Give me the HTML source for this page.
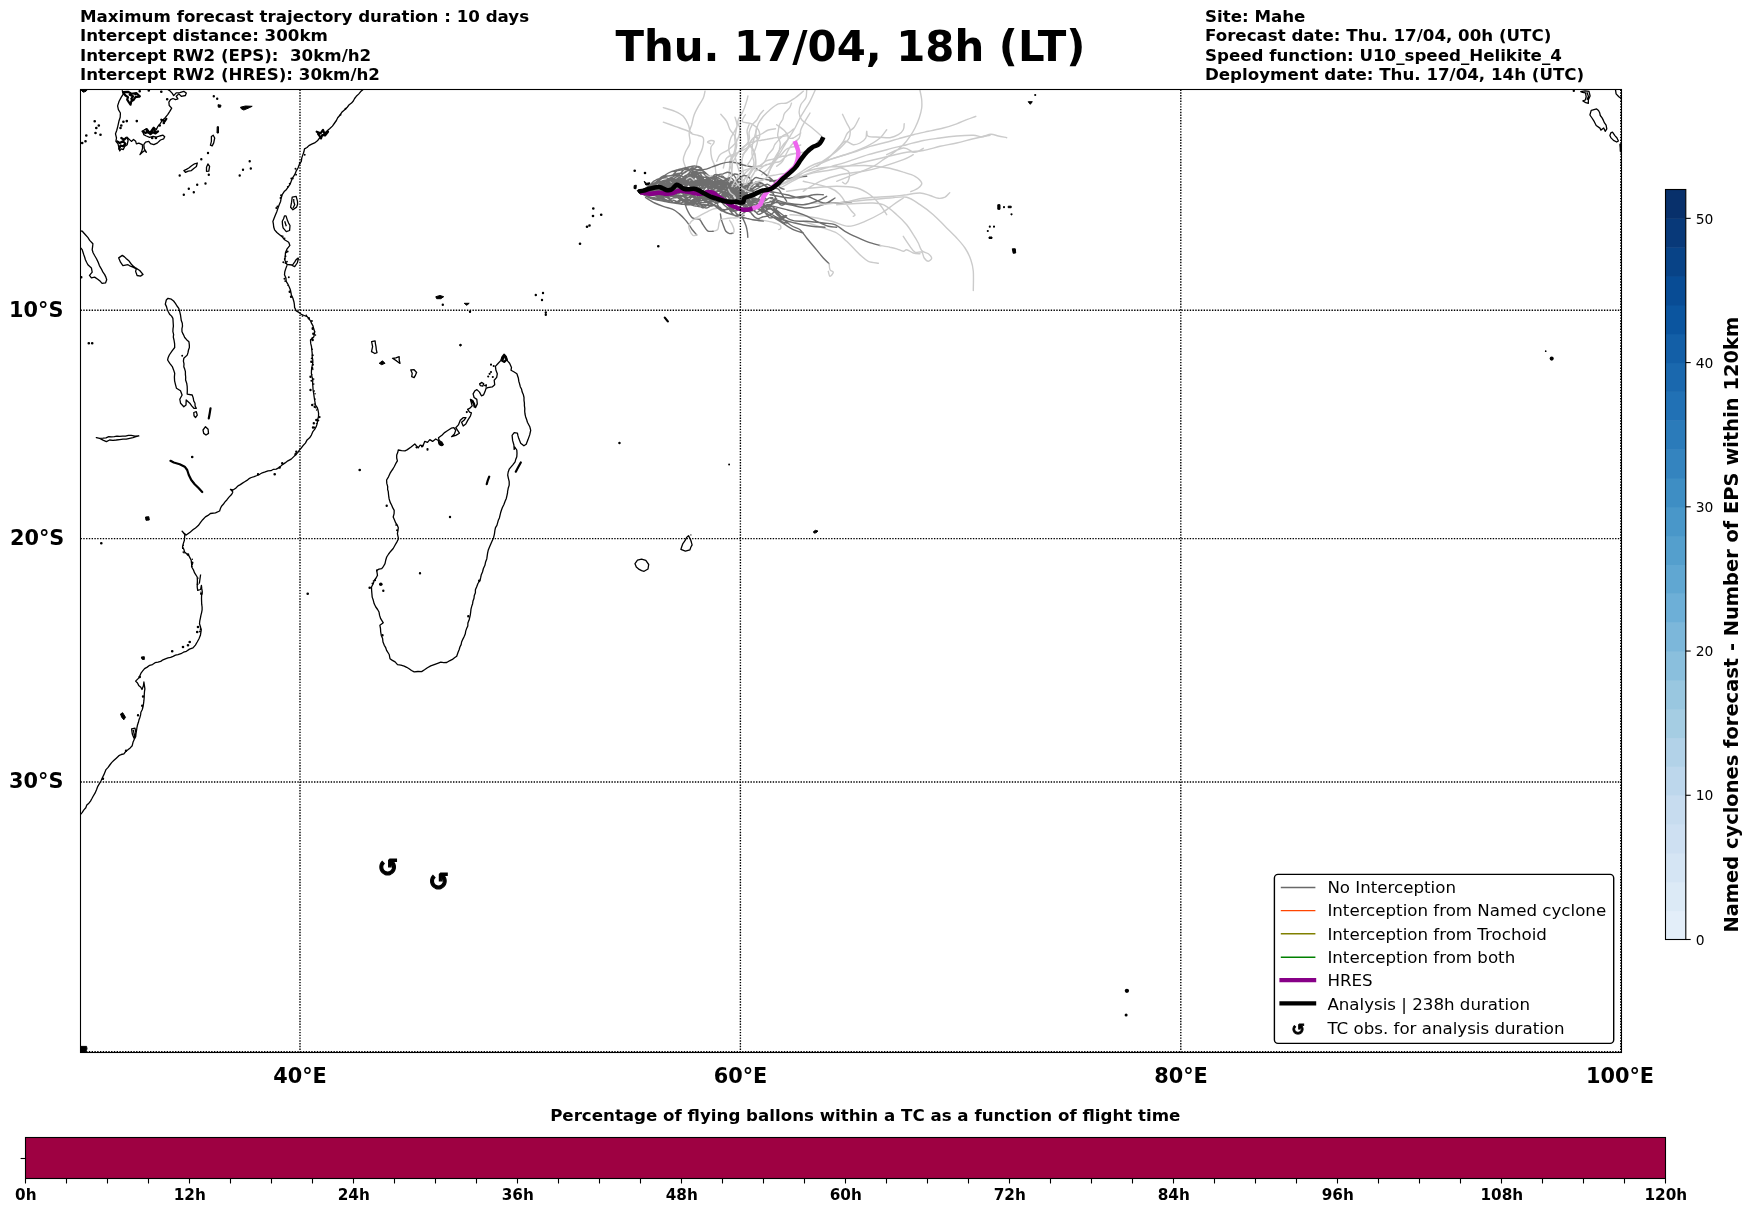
<!DOCTYPE html>
<html lang="en"><head><meta charset="utf-8"><title>Thu. 17/04, 18h (LT)</title>
<style>
html,body{margin:0;padding:0;background:#fff;}
body{width:1752px;height:1213px;overflow:hidden;}
svg{display:block;will-change:transform;}
text{font-family:"DejaVu Sans", "Liberation Sans", sans-serif;fill:#000;}
.b{font-weight:bold;}
.coast{fill:none;stroke:#000;stroke-width:1.3;stroke-linejoin:round;stroke-linecap:butt;}
.coast2{fill:none;stroke:#000;stroke-width:2.2;stroke-linejoin:round;stroke-linecap:round;}
.isl{fill:#000;stroke:#000;stroke-width:1;stroke-linejoin:round;}
.g1{fill:none;stroke:#cbcbcb;stroke-width:1.4;stroke-linejoin:round;stroke-linecap:round;}
.g2{fill:none;stroke:#8c8c8c;stroke-width:1.5;stroke-linejoin:round;stroke-linecap:round;}
.g3{fill:none;stroke:#6e6e6e;stroke-width:1.4;stroke-linejoin:round;stroke-linecap:round;}
.grid{fill:none;stroke:#000;stroke-width:1.39;stroke-dasharray:1.39 1.39;}
</style></head>
<body>
<svg width="1752" height="1213" viewBox="0 0 1752 1213">
<rect x="0" y="0" width="1752" height="1213" fill="#fff"/>
<g class="b" font-size="16.67">
<text x="80" y="22">Maximum forecast trajectory duration : 10 days</text>
<text x="80" y="41">Intercept distance: 300km</text>
<text x="80" y="60.8" xml:space="preserve">Intercept RW2 (EPS):  30km/h2</text>
<text x="80" y="79.8">Intercept RW2 (HRES): 30km/h2</text>
<text x="1205" y="22">Site: Mahe</text>
<text x="1205" y="41">Forecast date: Thu. 17/04, 00h (UTC)</text>
<text x="1205" y="60.8">Speed function: U10_speed_Helikite_4</text>
<text x="1205" y="79.8">Deployment date: Thu. 17/04, 14h (UTC)</text>
</g>
<text class="b" x="850.4" y="61.4" font-size="41.85" text-anchor="middle">Thu. 17/04, 18h (LT)</text>
<defs><clipPath id="mapclip"><rect x="80.5" y="89.5" width="1541" height="963"/></clipPath></defs>
<g clip-path="url(#mapclip)">
<!-- map_2_coast.svg -->
<path class="coast" d="M363.1 89.4L360.7 91.6L358.6 94.1L356.3 96.3L354.6 98.5L353.3 101.0L351.5 103.1L348.9 105.0L347.0 107.6L344.7 109.7L341.8 112.3L339.7 115.5L337.7 117.8L336.4 120.5L334.6 123.0L332.4 126.1L329.6 128.8L326.9 131.1L324.7 133.8L322.0 135.7L319.6 138.0L317.4 140.8L314.6 142.9L311.7 144.2L308.9 145.6L307.0 147.5L304.5 148.8L303.9 151.8L302.9 154.6L301.8 157.9L301.3 161.3L299.3 164.5L298.0 168.0L296.1 171.2L294.7 174.7L292.6 177.8L291.2 181.3L290.0 184.4L288.1 187.2L286.5 189.4L284.5 191.2L282.2 194.7L281.2 198.0L280.6 201.4L279.2 204.7L278.0 208.0L276.9 211.4L275.5 214.7L274.2 218.0L272.9 221.4L273.4 224.1L273.7 227.0L274.6 229.8L276.9 232.5L279.6 234.7L282.4 237.0L284.6 239.8L288.7 242.2L289.9 245.4L287.1 248.8L285.4 253.0L285.3 256.4L284.6 259.7L285.9 262.2L287.2 264.7L285.7 268.9L284.8 271.7L284.5 274.7L285.9 277.9L286.2 281.4L287.7 283.8L288.9 286.3L290.5 290.0M292.2 197.1L296.2 196.4L297.5 201.3L297.6 204.3L296.6 207.1L292.9 209.8L290.6 207.2L291.6 202.2ZM293.7 198.9L293.8 201.8L294.7 204.7L293.0 208.0M284.5 215.9L283.6 218.7L282.3 221.3L282.5 224.7L283.1 227.9L286.3 231.6L289.6 230.5L290.0 225.5L288.6 223.1L287.5 220.6L286.0 215.9ZM284.7 221.3L286.3 226.3M298.1 258.0L296.0 259.8L294.6 262.1L292.2 265.5L294.7 266.7L297.2 263.0L298.4 258.8ZM286.3 264.3L292.2 265.0M122.1 90.3L123.4 93.8L121.3 97.1L119.1 101.3L117.6 105.9L118.4 109.7L120.4 113.0L120.2 117.2L118.9 121.3L117.8 126.3L116.7 130.5L115.5 133.8L116.5 138.0L115.9 141.3L118.0 143.8L119.0 148.0L119.7 150.9L121.3 148.9L123.3 149.6L124.7 146.4L127.2 144.7L128.1 140.5L126.8 137.1L128.8 138.9L131.4 141.4L133.5 139.5L135.7 141.3L136.4 143.9L138.8 143.1L142.3 144.7L142.6 148.0L141.7 151.3L140.0 154.6L142.1 152.5L144.7 150.5L146.3 152.2L144.3 148.8L143.8 144.6L145.5 142.1L148.8 141.4L150.5 143.7L153.8 144.7L157.2 143.1L160.5 140.0L163.7 138.8L164.7 136.7L163.0 135.2L159.7 136.0L156.3 137.2L153.0 136.3L149.6 137.3L146.3 136.0L143.8 134.7L142.7 131.4L144.7 129.6L147.1 128.9L148.9 131.2L151.3 133.0L153.1 130.5L153.7 127.3L156.3 129.7L157.9 126.3L160.0 123.8L162.2 120.5L165.0 117.9L167.7 114.7L169.8 111.4L171.7 108.1L169.2 105.5L168.9 102.2L170.5 99.7L173.0 98.5L175.5 99.6L177.9 98.9L176.3 96.3L178.8 93.9L181.3 96.3L185.4 95.5L186.3 93.0L183.8 91.4L179.7 92.6L176.2 92.9L173.7 95.6L172.1 93.1L169.8 90.8L168.0 89.7M211.4 136.5L213.2 135.2L214.7 138.0L213.7 142.9L212.2 145.9L210.4 145.1L211.4 141.3ZM183.9 170.6L186.4 169.4L188.8 168.0L191.6 165.8L194.6 163.8L197.3 163.0L196.4 166.5L193.8 168.4L191.4 170.6L188.3 171.1L185.4 172.3ZM207.9 163.9L209.6 166.3L208.8 171.2L206.5 171.3L206.5 167.2ZM80.0 231.0L82.3 231.2L85.4 234.7L87.8 237.4L89.7 240.4L92.9 243.8L92.6 246.7L92.2 249.7L93.1 252.7L94.6 255.5L96.5 258.8L98.1 262.1L99.4 265.6L101.3 268.8L102.8 271.9L104.7 274.6L105.9 277.1L106.7 279.7L105.5 282.9L102.1 283.4L100.3 281.3L98.1 279.5L94.6 277.1L91.4 277.9L89.5 275.4L92.2 272.2L91.4 267.9L87.9 264.7L86.6 262.3L85.4 259.7L84.7 257.2L83.8 254.7L83.0 252.2L82.2 249.6L80.0 247.2M118.7 257.9L122.3 255.4L124.5 256.9L126.4 258.7L129.1 261.1L131.2 264.0L133.2 266.1L135.6 267.9L139.7 270.5L143.0 274.4L140.5 276.1L137.1 275.5L135.6 271.4L136.3 268.8L133.0 267.2L130.4 266.2L128.0 264.7L122.9 265.6L120.5 262.2ZM290.4 290.0L291.4 295.0L292.9 298.2L293.9 301.7L294.4 304.6L294.6 307.5L296.3 310.9L298.9 312.4L301.3 314.3L304.2 315.5L307.2 316.7L308.9 318.7L310.5 320.8L311.6 323.4L313.0 325.8L313.7 328.8L314.7 331.7L313.9 336.7L310.5 340.0L310.7 343.4L311.5 346.6L311.8 350.0L312.2 353.3L312.2 356.7L312.8 360.0L312.7 363.3L312.0 366.6L311.5 370.0L311.4 373.3L312.0 376.7L312.8 380.0L312.6 383.3L312.9 386.7L313.1 390.0L313.7 393.3L314.1 396.7L314.6 400.0L315.5 405.0L317.1 407.3L318.0 410.0L318.6 413.3L318.5 416.7L317.5 420.0L317.3 423.4L316.3 426.4L314.8 429.2L312.7 431.9L311.4 435.1L309.6 437.8L307.1 439.9L305.4 443.1L302.9 445.8L301.2 448.0L299.4 450.1L297.9 452.4L295.9 454.5L293.8 456.6L291.2 459.1L287.9 460.8L285.1 462.9L282.1 464.9L279.5 467.4L276.3 469.1L273.5 469.3L270.9 470.7L268.0 470.9L265.2 471.9L262.3 472.8L259.7 474.3L257.0 475.5L254.2 476.6L251.3 477.5L249.0 478.7L246.9 480.4L244.7 481.7L242.5 483.1L240.3 484.6L238.0 485.9L235.7 488.2L233.0 490.0L230.4 489.3L233.0 492.0M168.0 298.3L171.3 299.2L173.6 301.0L175.4 303.4L177.0 306.0L178.8 308.3L179.7 311.7L180.5 315.0L180.9 317.8L181.3 320.6L182.3 323.3L182.5 326.1L181.9 328.9L182.0 331.7L183.4 334.6L184.7 337.5L186.6 339.7L188.9 341.7L189.3 344.6L189.4 347.5L188.5 350.0L188.0 352.5L187.2 355.1L183.8 358.3L183.4 361.1L184.0 363.9L183.8 366.7L184.7 369.1L185.4 371.7L185.4 374.4L185.7 377.2L185.6 380.0L186.7 383.2L187.2 386.7L187.3 390.4L187.2 394.1L192.2 395.0L193.2 397.9L193.7 400.9L195.0 403.2L195.1 406.0L196.3 408.3L193.9 408.3L191.7 405.9L189.8 403.2L186.2 400.0L186.0 405.0L183.8 406.7L180.6 403.3L179.8 399.2L182.1 395.0L180.5 390.8L176.5 388.3L175.5 384.6L174.6 380.8L174.4 377.1L174.7 373.3L173.6 369.9L172.3 366.6L169.8 363.3L167.6 360.0L168.2 357.4L169.3 355.0L172.1 350.8L174.7 347.5L174.6 343.7L174.0 340.0L173.3 337.2L173.6 334.4L172.9 331.7L173.0 328.9L173.4 326.1L173.2 323.3L172.9 318.4L171.6 316.1L169.6 314.2L168.3 311.7L167.2 309.2L166.5 306.6L165.3 304.1L166.3 300.0ZM193.8 412.5L196.3 411.7L197.3 415.1L195.5 417.5L194.0 415.8ZM203.0 430.0L205.5 426.7L208.1 429.2L208.5 433.4L206.0 435.0L203.7 433.4ZM96.3 437.6L99.6 438.3L103.0 438.2L106.0 437.9L108.8 436.6L111.5 436.8L114.3 436.7L117.0 436.2L119.7 436.4L122.6 436.2L125.5 436.1L128.4 435.4L131.3 435.4L135.0 436.1L138.8 435.9L135.9 436.7L133.0 437.6L129.7 438.3L126.3 439.2L123.0 439.2L119.7 439.6L116.3 440.0L113.0 440.3L109.6 440.0L106.4 441.6L103.0 440.1L99.8 438.4ZM388.4 492.0L387.6 489.4L387.7 486.6L386.8 483.4L386.6 480.0L388.5 476.8L390.0 473.4L391.4 471.1L392.9 469.0L394.2 466.7L395.7 463.7L397.4 460.8L396.7 458.0L396.7 455.0L397.7 452.6L398.3 450.0L401.6 450.6L405.0 450.8L407.5 449.7M406.4 450.0L407.4 449.6L411.1 447.0L414.8 444.0L416.5 445.9L418.3 447.7L420.2 445.1L422.9 445.9L424.8 441.3L427.5 442.3L429.8 439.6L432.6 441.4L435.7 439.0L438.3 440.5L439.4 444.0L442.9 445.0L442.0 442.4L439.2 440.5L438.5 437.8L442.2 435.0L444.2 432.9L446.6 431.2L448.9 429.7L451.2 428.2L453.9 427.7L455.7 430.4L454.4 434.0L451.6 436.7L455.8 435.4L459.4 433.2L457.6 430.4L455.8 427.7L458.4 424.9L460.3 420.3L463.1 417.7L466.0 417.7L464.0 420.3L461.6 422.2L463.2 426.0L465.8 424.0L467.7 420.4L469.1 418.1L470.5 415.8L471.4 412.9L469.6 412.1L467.6 409.3L470.0 408.1L472.2 405.8L471.4 403.0L470.4 399.4L473.3 401.1L474.1 404.5L475.5 407.6L477.3 403.9L476.8 399.4L474.1 397.5L473.1 393.8L475.0 390.7L476.9 389.6L479.5 392.1L481.4 395.8L483.6 394.8L485.0 391.6L486.0 388.5L487.8 387.6L492.2 386.9L494.7 384.7L494.2 380.2L496.7 377.4L497.3 373.8L495.9 370.1L495.4 366.4L497.8 363.8L500.7 360.6L502.3 356.4L504.1 354.2L506.4 356.9L507.5 360.9L509.6 363.3L511.5 367.4L511.0 370.3L514.2 372.0L516.9 373.8L518.4 378.3L518.8 381.2L519.6 383.9L520.3 386.7L521.6 389.3L522.2 392.1L523.4 394.8L524.0 397.5L524.0 400.3L524.4 403.0L524.4 405.7L524.8 408.5L524.7 411.2L525.0 414.0L525.6 416.7L526.6 419.4L527.4 422.2L529.8 426.7L530.7 430.4L529.7 434.9L528.0 439.6L526.2 444.2L523.9 445.8L520.7 443.2L518.8 438.6L518.0 435.9L517.4 433.1L514.2 432.7L512.1 435.4L512.6 440.4L513.9 445.0L514.2 450.0M479.6 383.9L481.9 382.4L483.7 383.8L482.7 386.2L480.4 385.7ZM484.1 385.6L486.4 384.8L485.9 387.5M514.4 446.6L516.8 450.0L517.0 453.3L516.8 456.7L515.8 459.2L515.1 461.8L512.6 465.1L510.9 467.1L509.2 469.2L508.2 472.0L507.7 475.0L508.4 478.3L509.2 481.7L509.2 485.1L508.2 488.3L507.5 492.0M371.6 341.6L375.1 340.8L375.4 343.7L376.0 346.6L376.3 349.6L377.0 352.6L374.9 353.5L371.5 351.6L372.6 346.7ZM392.5 358.3L395.9 357.8L399.2 356.7L399.2 360.0L400.0 363.4L396.6 360.9ZM410.8 369.9L414.1 369.7L416.6 372.5L415.5 375.1L414.1 377.6L411.7 376.7L412.2 373.3ZM233.0 492.0L231.3 494.8L229.0 497.1L227.0 499.7L224.8 502.1L223.3 504.3L221.5 506.2L220.4 508.6L219.6 511.0L215.5 512.9L210.4 513.5L208.0 515.4L205.4 516.9L202.7 519.7L200.4 522.7L198.3 525.6L195.5 527.9L192.9 529.8L190.4 531.9L186.2 535.1L184.1 533.2L182.1 531.2L184.8 534.5L184.6 537.4L184.4 540.3L183.3 543.6L182.5 547.1L183.9 549.4L184.6 552.1L186.6 553.8L188.7 555.4L190.0 557.9L191.2 560.3L191.6 563.7L191.7 567.0L193.4 569.8L194.6 572.9L197.2 577.0L197.4 580.3L197.3 583.7L197.2 587.0L197.7 590.4L200.6 589.5L201.4 585.3L201.8 588.7L202.3 592.0L201.6 595.3L201.5 598.6L201.6 601.4L201.7 604.2L202.1 607.0L202.1 609.8L201.6 612.6L200.9 615.3L200.4 618.1L199.8 620.8L199.5 623.7L200.5 627.0L201.2 630.3L200.4 635.3L199.0 638.7L197.2 642.0L195.4 645.1L193.0 647.9L189.5 649.1L186.4 651.3L183.5 652.2L180.9 653.7L178.0 654.6L175.5 655.2L173.1 656.4L170.6 657.4L168.0 657.9L165.4 658.8L163.0 659.8L160.7 661.4L158.0 662.1L155.1 662.7L152.5 664.5L149.7 665.3L147.2 667.1L144.6 668.6L142.9 670.7L141.2 672.8L140.1 675.3L138.9 677.9L135.6 681.1L137.5 683.0L138.7 685.4L140.8 687.2L142.0 689.5L143.4 685.8L143.9 682.0L144.5 686.2L144.9 688.8L144.5 691.4L144.3 694.0M200.6 574.5L199.9 579.5L199.3 583.7M388.3 492.0L388.6 495.3L389.1 498.7L390.1 502.1L391.7 505.3L392.8 507.9L394.2 510.3L394.1 513.7L393.2 517.0L394.5 520.0L395.7 522.9L397.3 525.2L398.3 527.8L397.9 530.8L397.4 533.7L398.5 538.7L396.8 542.1L395.0 545.3L393.2 548.5L390.8 551.2L388.6 554.0L386.7 557.0L385.7 560.3L385.0 563.6L383.5 566.3L381.7 568.7L379.0 569.1L376.7 570.3L377.5 575.3L376.1 578.0L374.3 580.4L373.2 583.8L371.5 587.0L371.6 590.3L371.9 593.7L372.2 597.1L373.3 600.3L374.2 603.8L375.8 607.0L377.6 609.5L379.0 612.0L379.6 615.4L380.7 618.7L383.3 622.8L379.9 625.3L380.5 628.7L380.7 632.0L381.3 635.4L382.6 638.6L383.0 642.1L384.3 645.3L385.7 647.7L386.6 650.4L389.2 654.5L390.0 658.7L392.4 660.4L395.1 661.9L397.5 664.6L400.9 665.1L404.2 666.1L406.7 667.3L409.1 668.7L411.5 670.5L414.2 671.9L417.9 671.5L421.6 671.6L424.5 669.7L427.4 667.7L430.7 665.9L434.2 664.6L437.6 663.4L440.8 662.2L443.7 662.6L446.7 662.5L449.5 660.8L452.4 659.4L454.5 657.7L456.7 656.2L457.9 652.8L459.2 649.5L459.9 647.0L461.1 644.6L461.6 642.0L462.9 639.1L464.3 636.2L465.3 633.8L465.7 631.1L466.6 628.6L467.8 626.0L467.9 623.0L469.0 620.3L469.7 617.6L470.3 614.8L470.7 612.0L471.0 609.1L471.7 606.4L472.6 603.7L473.0 600.9L474.0 598.2L474.3 595.4L475.4 592.7L475.4 589.7L476.6 586.9L477.9 583.5L480.0 580.3L480.7 577.5L481.3 574.7L482.5 572.0L483.4 568.5L484.9 565.3L485.6 561.9L486.8 558.7L487.2 555.9L487.6 553.1L488.2 550.3L489.5 547.0L490.9 543.7L492.2 540.8L493.5 537.9L494.4 534.1L494.9 530.3L495.5 527.7L496.9 525.4L497.6 522.9L498.3 520.3L499.4 517.9L500.0 515.3L500.6 512.8L501.4 510.2L502.3 507.8L503.9 504.5L505.1 501.2L506.3 498.4L507.0 495.3L507.7 492.0M635.0 563.7L637.5 560.2L641.6 559.1L645.8 560.4L648.7 564.5L648.0 569.0L644.1 571.3L641.6 570.6L639.2 569.4L636.3 566.9ZM144.3 694.0L144.2 697.3L143.9 700.7L143.5 704.0L142.9 707.3L142.2 709.8L140.9 712.2L140.6 714.9L139.9 717.4L139.0 719.8L138.4 722.3L137.5 725.0L136.9 727.8L136.5 730.6L136.0 733.6L135.7 736.6L134.2 739.4L133.0 742.3L132.2 745.7L130.2 747.9L127.9 749.8L125.7 751.5L123.9 753.8L121.3 754.5L118.9 755.7L116.3 758.2L113.7 760.6L111.6 762.6L109.8 765.0L108.1 767.4L106.0 769.6L104.8 772.4L103.8 774.9L102.6 777.3L101.3 780.3L99.7 783.2L97.8 786.3L96.5 789.8L95.0 793.2L93.0 796.5L91.8 798.8L90.5 801.1L88.9 803.2L86.8 805.1L85.8 807.8L83.9 809.9L82.1 812.6L80.0 815.0M131.6 728.9L135.0 728.2L135.9 733.1L134.6 735.5L133.9 738.1L132.3 734.0ZM133.3 729.8L134.3 734.8M1580.8 91.6L1585.0 90.8L1589.0 91.4L1590.1 96.0L1588.4 99.7L1588.3 103.4L1585.8 102.7L1582.9 100.9L1585.3 100.0L1586.2 96.8L1585.5 92.8L1582.5 92.3ZM1586.9 92.2L1588.4 96.4L1587.1 99.7M1591.3 110.3L1594.0 109.6L1596.6 108.9L1598.5 110.5L1599.7 112.8L1600.3 115.5L1602.1 117.9L1603.4 120.4L1604.5 122.9L1606.1 125.1L1606.8 128.9L1605.2 131.3L1603.7 128.0L1600.8 130.1L1599.9 128.1L1596.2 125.5L1594.3 121.7L1592.0 118.0L1589.9 115.0L1590.7 112.1ZM1610.8 132.9L1612.5 132.1L1614.9 135.6L1617.0 138.0L1618.4 141.0L1616.7 142.0L1613.5 140.4L1611.0 137.9L1609.9 135.5ZM1615.5 89.7L1616.1 93.9L1618.8 96.7L1621.7 98.7M686.7 537.4L688.5 535.6L690.6 539.8L691.4 542.3L692.1 544.9L690.8 547.3L689.9 549.9L685.4 551.2L680.9 549.4L681.8 546.5L682.9 543.6L685.0 540.7Z"/>
<path class="coast2" d="M316.7 131.7L320.5 133.3L323.0 130.0L324.3 133.3L328.0 131.7L325.0 135.5L322.2 135.0L321.0 138.5L319.3 135.5L318.0 133.8M123.0 92.2L128.0 91.8L131.3 93.8L136.3 93.0L139.7 96.3L135.5 97.2L133.8 99.7L131.3 101.3L130.5 104.7L128.8 102.2L127.2 99.7L128.0 97.2L125.5 95.5L123.4 93.0M129.7 94.7L133.0 96.3L131.3 98.8M142.6 131.3L145.5 133.0L148.0 131.3L150.5 134.2L153.0 132.2L155.5 133.4L158.0 131.3M146.3 129.2L147.6 132.2L149.7 133.4L153.4 128.0L155.1 131.3M117.2 141.3L119.7 143.0L123.0 141.3L125.5 143.8L123.0 146.3L120.5 145.5L119.2 148.8M121.3 138.0L124.2 139.7L125.9 138.0M161.3 119.7L164.7 121.3L166.3 118.8M210.5 408.3L209.7 413.3L208.8 418.3M170.5 460.8L173.8 462.5L179.7 464.2L184.7 466.7L187.2 470.0L188.8 475.0L191.3 480.0L194.7 484.2L198.8 488.3L202.2 492.0M502.4 357.4L505.1 356.0L506.5 359.6L504.2 361.9L501.9 360.5L503.3 358.3M471.3 400.3L474.1 403.9L474.5 406.7M520.8 462.5L518.3 467.0L515.8 471.7M489.2 476.7L487.8 480.3L486.7 484.2M1620.4 144.7L1620.7 148.0L1620.8 151.3M664.8 317.6L667.8 321.4"/>
<path class="isl" d="M218.0 104.7L221.0 105.2L220.5 107.2L218.3 107.2ZM240.5 107.2L245.5 106.0L252.2 106.3L248.0 108.3L243.8 110.0L241.3 108.8ZM217.2 126.7L218.5 126.7L218.5 133.0L217.0 133.0ZM644.2 181.3L646.7 183.3L649.7 182.7L649.2 185.0L645.8 185.0ZM634.2 185.5L636.3 185.2L636.0 188.8L634.0 188.5ZM637.2 190.5L640.0 189.3L642.0 192.2L639.2 193.3ZM438.4 441.8L441.2 442.3L443.5 444.1L442.1 445.9L439.4 445.0ZM379.2 363.3L382.5 360.8L385.0 363.3L381.7 364.7ZM435.8 296.7L440.0 295.5L443.7 296.7L440.8 298.7L436.7 298.7ZM464.2 303.3L469.2 303.3L466.7 305.3ZM145.5 517.0L148.8 516.7L149.3 520.0L146.0 520.3ZM141.3 657.0L144.3 656.7L144.3 659.5L142.0 659.2ZM120.5 714.0L122.7 712.7L125.5 717.3L123.8 719.8L121.7 717.3ZM1028.2 101.7L1032.3 101.7L1030.3 104.3ZM997.8 204.7L1000.0 204.7L1000.0 209.3L997.8 209.3ZM1008.2 206.2L1011.2 206.2L1011.2 207.7L1008.2 207.7ZM989.0 237.0L992.0 237.0L992.0 238.5L989.0 238.5ZM1012.3 248.8L1015.3 248.8L1015.7 253.0L1013.2 253.3ZM813.5 531.6L815.5 530.3L818.0 531.1L816.0 532.8L814.0 533.1ZM81.0 1046.4L86.6 1046.4L87.0 1049.0L85.5 1052.0L81.0 1052.0ZM81.0 90.0L87.0 90.0L86.0 91.3L83.5 92.2L82.0 91.2Z"/>
<path d="M340.5 114.7h0.01M345.5 108.8h0.01M295.5 168.8h0.01M291.3 178.5h0.01M299.7 163.0h0.01M304.7 154.7h0.01M280.5 198.0h0.01M276.3 208.0h0.01M286.3 252.2h0.01M285.5 256.3h0.01M288.8 277.2h0.01M283.3 262.2h0.01M285.5 263.0h0.01M182.2 355.8h0.01M729.1 464.5h0.01" fill="none" stroke="#000" stroke-width="1.92" stroke-linecap="round"/>
<path d="M126.8 121.1h0.01M123.4 121.8h0.01M136.8 121.1h0.01M121.3 125.5h0.01M120.5 128.0h0.01M161.3 91.8h0.01M148.8 90.5h0.01M139.7 91.3h0.01M167.2 99.2h0.01M163.8 123.0h0.01M159.7 125.5h0.01M152.2 138.0h0.01M155.9 138.0h0.01M135.5 94.2h0.01M139.2 96.3h0.01M94.7 121.3h0.01M98.8 125.5h0.01M95.5 133.0h0.01M100.5 134.7h0.01M86.3 135.5h0.01M85.5 141.3h0.01M82.2 143.0h0.01M96.3 128.0h0.01M634.7 170.8h0.01M645.0 173.0h0.01M593.3 208.5h0.01M593.0 216.0h0.01M601.2 214.7h0.01M587.0 226.7h0.01M589.5 225.5h0.01M580.0 243.8h0.01M658.3 246.3h0.01M88.8 343.3h0.01M92.2 343.3h0.01M192.2 457.0h0.01M359.7 470.0h0.01M274.7 474.2h0.01M101.3 543.3h0.01M307.7 593.7h0.01M369.7 587.8h0.01M172.2 651.2h0.01M183.0 647.0h0.01M189.7 642.0h0.01M188.0 645.3h0.01M198.0 627.0h0.01M197.2 632.0h0.01M139.7 677.0h0.01M192.2 562.8h0.01M188.0 554.5h0.01M201.3 593.7h0.01" fill="none" stroke="#000" stroke-width="2.64" stroke-linecap="round"/>
<path d="M213.8 96.3h0.01M217.2 98.8h0.01M208.0 153.0h0.01M201.3 159.2h0.01M208.8 174.7h0.01M179.7 175.5h0.01M249.7 161.3h0.01M250.8 168.5h0.01M239.7 175.5h0.01M205.5 183.5h0.01M197.2 184.7h0.01M188.8 188.8h0.01M193.8 192.2h0.01M183.8 194.7h0.01M243.0 169.7h0.01M81.3 277.2h0.01M289.7 291.7h0.01M291.0 296.7h0.01M308.8 318.3h0.01M312.7 328.3h0.01M313.3 333.7h0.01M312.7 340.0h0.01M311.3 361.7h0.01M312.2 368.3h0.01M310.5 376.7h0.01M314.7 406.7h0.01M316.3 420.0h0.01M313.8 423.3h0.01M313.0 427.5h0.01M296.3 451.7h0.01M295.5 454.2h0.01M282.2 463.3h0.01M279.7 467.5h0.01M258.0 474.2h0.01M310.5 390.0h0.01M312.2 405.0h0.01M442.8 304.7h0.01M470.0 311.7h0.01M535.8 295.0h0.01M543.0 293.0h0.01M542.0 300.0h0.01M460.5 345.0h0.01M619.5 443.0h0.01M545.8 312.5h0.01M545.8 314.7h0.01M386.7 505.7h0.01M450.0 517.0h0.01M420.0 573.3h0.01M383.3 590.7h0.01M382.5 635.3h0.01M479.2 580.8h0.01M468.3 616.2h0.01M138.0 715.3h0.01M142.2 705.7h0.01M143.0 696.5h0.01M126.0 750.7h0.01M103.0 778.7h0.01M1573.8 90.7h0.01" fill="none" stroke="#000" stroke-width="2.4" stroke-linecap="round"/>
<path d="M488.2 376.5h0.01M489.6 373.8h0.01M491.0 372.0h0.01M492.8 377.0h0.01M491.0 364.7h0.01M493.7 366.0h0.01M460.4 345.3h0.01M466.8 412.1h0.01M416.5 447.3h0.01M422.0 446.4h0.01M427.5 449.1h0.01M427.5 449.7h0.01M422.5 445.8h0.01M416.7 447.5h0.01M1035.2 95.0h0.01M1004.0 207.2h0.01M1011.5 214.3h0.01M989.8 226.7h0.01M994.0 226.7h0.01M987.8 231.0h0.01" fill="none" stroke="#000" stroke-width="2.16" stroke-linecap="round"/>
<path d="M380.8 584.2h0.01" fill="none" stroke="#000" stroke-width="3.6" stroke-linecap="round"/>
<path d="M619.3 442.9h0.01M192.3 559.2h0.01M192.3 564.4h0.01M373.4 580.9h0.01" fill="none" stroke="#000" stroke-width="1.44" stroke-linecap="round"/>
<path d="M690.9 534.9h0.01" fill="none" stroke="#000" stroke-width="1.2" stroke-linecap="round"/>
<path d="M1545.7 351.2h0.01M313.6 379.0h0.01" fill="none" stroke="#000" stroke-width="1.68" stroke-linecap="round"/>
<path d="M1551.7 358.6h0.01" fill="none" stroke="#000" stroke-width="4.08" stroke-linecap="round"/>
<path d="M1126.9 990.8h0.01" fill="none" stroke="#000" stroke-width="4.32" stroke-linecap="round"/>
<path d="M1126.1 1015.0h0.01" fill="none" stroke="#000" stroke-width="3" stroke-linecap="round"/>
<path d="M302.5 316.0h0.01M311.6 358.4h0.01" fill="none" stroke="#000" stroke-width="1.72" stroke-linecap="round"/>
<path d="M306.3 315.3h0.01" fill="none" stroke="#000" stroke-width="1.76" stroke-linecap="round"/>
<path d="M311.9 321.1h0.01M311.4 380.7h0.01M375.1 580.3h0.01" fill="none" stroke="#000" stroke-width="2" stroke-linecap="round"/>
<path d="M312.6 329.1h0.01M312.4 338.0h0.01M396.2 524.9h0.01" fill="none" stroke="#000" stroke-width="1.86" stroke-linecap="round"/>
<path d="M314.6 331.7h0.01M312.3 349.3h0.01M312.9 369.6h0.01M316.4 423.6h0.01M288.0 285.4h0.01" fill="none" stroke="#000" stroke-width="1.38" stroke-linecap="round"/>
<path d="M315.4 335.0h0.01M314.9 399.1h0.01M287.7 186.8h0.01M183.3 552.1h0.01" fill="none" stroke="#000" stroke-width="1.7" stroke-linecap="round"/>
<path d="M311.1 339.5h0.01M183.3 545.2h0.01" fill="none" stroke="#000" stroke-width="1.56" stroke-linecap="round"/>
<path d="M312.7 355.2h0.01M312.9 364.7h0.01M319.6 417.1h0.01" fill="none" stroke="#000" stroke-width="2.12" stroke-linecap="round"/>
<path d="M312.3 362.3h0.01M200.0 631.6h0.01" fill="none" stroke="#000" stroke-width="1.98" stroke-linecap="round"/>
<path d="M311.7 374.5h0.01M314.3 404.1h0.01M316.6 409.9h0.01" fill="none" stroke="#000" stroke-width="1.48" stroke-linecap="round"/>
<path d="M313.7 384.1h0.01" fill="none" stroke="#000" stroke-width="1.66" stroke-linecap="round"/>
<path d="M314.3 391.0h0.01" fill="none" stroke="#000" stroke-width="1.54" stroke-linecap="round"/>
<path d="M315.1 393.8h0.01M200.9 592.1h0.01" fill="none" stroke="#000" stroke-width="1.4" stroke-linecap="round"/>
<path d="M315.8 407.7h0.01" fill="none" stroke="#000" stroke-width="1.52" stroke-linecap="round"/>
<path d="M318.3 420.6h0.01M372.5 583.6h0.01" fill="none" stroke="#000" stroke-width="2.02" stroke-linecap="round"/>
<path d="M314.3 427.5h0.01M292.8 178.4h0.01M191.8 566.2h0.01" fill="none" stroke="#000" stroke-width="1.84" stroke-linecap="round"/>
<path d="M281.8 235.6h0.01" fill="none" stroke="#000" stroke-width="1.34" stroke-linecap="round"/>
<path d="M282.9 236.2h0.01" fill="none" stroke="#000" stroke-width="1.46" stroke-linecap="round"/>
<path d="M284.7 238.2h0.01" fill="none" stroke="#000" stroke-width="1.62" stroke-linecap="round"/>
<path d="M287.6 251.5h0.01M281.1 195.4h0.01M200.7 629.2h0.01" fill="none" stroke="#000" stroke-width="2.08" stroke-linecap="round"/>
<path d="M284.8 258.9h0.01" fill="none" stroke="#000" stroke-width="1.94" stroke-linecap="round"/>
<path d="M287.0 261.6h0.01M376.8 570.5h0.01" fill="none" stroke="#000" stroke-width="1.78" stroke-linecap="round"/>
<path d="M284.5 278.7h0.01" fill="none" stroke="#000" stroke-width="2.06" stroke-linecap="round"/>
<path d="M285.2 281.1h0.01" fill="none" stroke="#000" stroke-width="1.8" stroke-linecap="round"/>
<path d="M296.1 174.7h0.01" fill="none" stroke="#000" stroke-width="1.82" stroke-linecap="round"/>
<path d="M289.5 183.6h0.01" fill="none" stroke="#000" stroke-width="1.5" stroke-linecap="round"/>
<path d="M277.5 206.5h0.01" fill="none" stroke="#000" stroke-width="2.04" stroke-linecap="round"/>
<path d="M182.8 548.2h0.01" fill="none" stroke="#000" stroke-width="1.74" stroke-linecap="round"/>
<path d="M184.1 552.9h0.01" fill="none" stroke="#000" stroke-width="1.36" stroke-linecap="round"/>
<path d="M198.1 578.1h0.01" fill="none" stroke="#000" stroke-width="1.32" stroke-linecap="round"/>
<path d="M197.6 584.2h0.01" fill="none" stroke="#000" stroke-width="1.9" stroke-linecap="round"/>
<path d="M397.1 530.3h0.01" fill="none" stroke="#000" stroke-width="2.14" stroke-linecap="round"/>
<!-- map_3_traj.svg -->
<path class="g1" d="M695.8 168.0C696.2 166.3 697.2 161.3 698.3 158.0C699.4 154.7 701.7 151.3 702.5 148.0C703.3 144.7 704.0 140.1 703.3 138.0C702.6 135.9 700.4 136.3 698.3 135.5C696.2 134.7 692.5 134.8 690.8 133.0C689.2 131.2 689.6 127.4 688.3 124.7C687.1 121.9 685.6 118.6 683.3 116.3C681.1 114.1 678.3 112.8 675.0 111.3C671.7 109.9 665.3 108.3 663.3 107.7M685.8 168.0C685.4 166.6 683.3 162.4 683.3 159.7C683.3 156.9 684.7 154.1 685.8 151.3C686.9 148.6 689.4 146.1 690.0 143.0C690.6 139.9 688.9 136.1 689.2 133.0C689.4 129.9 690.8 127.7 691.7 124.7C692.5 121.6 693.1 117.7 694.2 114.7C695.3 111.6 696.8 109.1 698.3 106.3C699.9 103.6 702.2 100.5 703.3 98.0C704.4 95.5 704.7 92.4 705.0 91.3M715.8 173.0C715.7 171.9 715.7 168.8 715.0 166.3C714.3 163.8 712.4 161.1 711.7 158.0C711.0 154.9 710.6 150.4 710.8 148.0C711.1 145.6 712.8 144.9 713.3 143.8C713.9 142.7 714.6 141.9 714.2 141.3C713.8 140.8 711.9 140.4 710.8 140.5C709.7 140.6 707.5 141.6 707.5 142.2C707.5 142.7 710.3 143.6 710.8 143.8M766.7 178.0C767.2 176.6 768.6 172.4 770.0 169.7C771.4 166.9 773.3 164.1 775.0 161.3C776.7 158.6 778.3 155.8 780.0 153.0C781.7 150.2 783.3 147.4 785.0 144.7C786.7 141.9 788.3 139.1 790.0 136.3C791.7 133.6 793.3 131.1 795.0 128.0C796.7 124.9 798.3 121.1 800.0 118.0C801.7 114.9 803.3 112.4 805.0 109.7C806.7 106.9 808.3 104.5 810.0 101.3C811.7 98.1 814.2 92.3 815.0 90.5M822.5 137.2C822.1 136.8 822.1 136.5 820.0 134.7C817.9 132.9 813.1 128.8 810.0 126.3C806.9 123.8 803.5 121.9 801.7 119.7C799.9 117.4 799.3 115.5 799.2 113.0C799.0 110.5 799.7 107.2 800.8 104.7C801.9 102.2 804.9 100.4 805.8 98.0C806.8 95.6 806.5 91.8 806.7 90.5M761.7 174.7C763.1 173.3 767.5 169.7 770.0 166.3C772.5 163.0 774.4 158.3 776.7 154.7C778.9 151.1 781.4 147.4 783.3 144.7C785.3 141.9 788.1 140.2 788.3 138.0C788.6 135.8 786.9 133.6 785.0 131.3C783.1 129.1 778.1 125.8 776.7 124.7M723.3 168.0C723.9 166.3 724.4 160.5 726.7 158.0C728.9 155.5 733.3 154.7 736.7 153.0C740.0 151.3 743.9 150.5 746.7 148.0C749.4 145.5 751.4 139.7 753.3 138.0C755.3 136.3 757.5 138.0 758.3 138.0M770.0 188.0C772.8 186.9 780.0 184.9 786.7 181.3C793.3 177.7 803.9 169.7 810.0 166.3C816.1 163.0 818.3 163.0 823.3 161.3C828.3 159.7 834.4 158.0 840.0 156.3C845.6 154.7 851.7 153.0 856.7 151.3C861.7 149.7 865.6 147.7 870.0 146.3C874.4 144.9 878.6 144.2 883.3 143.0C888.1 141.8 893.3 140.2 898.3 138.8C903.3 137.4 908.3 135.9 913.3 134.7C918.3 133.4 923.3 132.4 928.3 131.3C933.3 130.2 938.6 129.2 943.3 128.0C948.1 126.8 952.8 125.2 956.7 123.8C960.6 122.4 963.5 120.9 966.7 119.7C969.9 118.4 974.3 116.9 975.8 116.3M780.0 188.0C784.4 185.8 798.1 177.7 806.7 174.7C815.3 171.6 823.3 171.5 831.7 169.7C840.0 167.9 848.3 165.8 856.7 163.8C865.0 161.9 873.3 159.9 881.7 158.0C890.0 156.1 899.7 153.4 906.7 152.2C913.6 150.9 917.8 151.5 923.3 150.5C928.9 149.5 934.4 147.6 940.0 146.3C945.6 145.1 951.1 144.2 956.7 143.0C962.2 141.8 967.8 140.1 973.3 138.8C978.9 137.5 987.2 135.8 990.0 135.2M816.7 166.3C818.6 164.9 825.0 160.8 828.3 158.0C831.7 155.2 833.9 152.4 836.7 149.7C839.4 146.9 842.2 142.2 845.0 141.3C847.8 140.5 850.8 144.4 853.3 144.7C855.8 144.9 857.9 144.1 860.0 143.0C862.1 141.9 864.7 139.9 865.8 138.0C866.9 136.1 866.2 131.6 866.7 131.3C867.1 131.1 866.1 135.4 868.3 136.3C870.6 137.3 876.4 136.9 880.0 137.2C883.6 137.4 886.9 138.1 890.0 137.7C893.1 137.2 896.1 136.0 898.3 134.7C900.6 133.3 902.4 131.5 903.3 129.7C904.3 127.9 904.0 124.8 904.2 123.8M811.7 203.0C816.4 203.0 831.9 203.7 840.0 203.0C848.1 202.3 853.9 199.8 860.0 198.8C866.1 197.9 871.1 197.6 876.7 197.2C882.2 196.8 888.3 196.7 893.3 196.3C898.3 195.9 902.2 195.2 906.7 194.7C911.1 194.1 916.1 192.9 920.0 193.0C923.9 193.1 926.9 194.6 930.0 195.5C933.1 196.4 935.8 198.1 938.3 198.3C940.8 198.6 943.1 198.1 945.0 197.2C946.9 196.2 948.9 193.4 949.7 192.7M836.7 204.7C842.2 204.4 862.2 203.0 870.0 203.0C877.8 203.0 878.9 202.7 883.3 204.7C887.8 206.6 892.8 211.3 896.7 214.7C900.6 218.0 903.9 221.3 906.7 224.7C909.4 228.0 911.4 231.6 913.3 234.7C915.3 237.7 916.9 240.4 918.3 243.0C919.7 245.6 920.0 248.7 921.7 250.5C923.3 252.3 926.7 252.6 928.3 253.8C930.0 255.1 931.7 256.8 931.7 258.0C931.7 259.2 929.6 261.3 928.3 261.3C927.1 261.3 925.3 259.5 924.2 258.0C923.1 256.5 923.2 253.1 921.7 252.2C920.1 251.2 916.9 253.1 915.0 252.2C913.1 251.2 911.9 249.0 910.0 246.3C908.1 243.7 904.4 238.0 903.3 236.3M803.3 221.3C806.7 222.4 817.8 226.1 823.3 228.0C828.9 229.9 832.8 230.8 836.7 233.0C840.6 235.2 843.6 238.6 846.7 241.3C849.7 244.1 852.5 247.2 855.0 249.7C857.5 252.2 859.4 254.4 861.7 256.3C863.9 258.3 865.6 260.2 868.3 261.3C871.1 262.5 876.7 263.0 878.3 263.3M803.3 181.3C807.8 182.4 823.9 185.8 830.0 188.0C836.1 190.2 837.2 191.9 840.0 194.7C842.8 197.4 844.7 201.9 846.7 204.7C848.6 207.4 850.3 209.7 851.7 211.3C853.1 213.0 854.7 213.8 855.0 214.7C855.3 215.5 853.6 216.1 853.3 216.3M820.0 163.0C822.8 161.1 832.5 154.7 836.7 151.3C840.8 148.0 842.9 145.2 845.0 143.0C847.1 140.8 848.3 140.2 849.2 138.0C850.0 135.8 850.4 132.2 850.0 129.7C849.6 127.2 847.9 125.6 846.7 123.0C845.4 120.4 843.2 115.8 842.5 114.3M790.0 214.7C792.8 214.9 799.7 215.2 806.7 216.3C813.6 217.4 824.7 219.7 831.7 221.3C838.6 223.0 842.8 226.3 848.3 226.3C853.9 226.3 859.4 223.6 865.0 221.3C870.6 219.1 876.9 215.8 881.7 213.0C886.4 210.2 889.7 207.2 893.3 204.7C896.9 202.2 901.7 199.1 903.3 198.0M786.7 191.3C790.8 190.8 803.3 188.8 811.7 188.0C820.0 187.2 829.2 186.3 836.7 186.3C844.2 186.3 851.1 186.6 856.7 188.0C862.2 189.4 866.1 191.9 870.0 194.7C873.9 197.4 877.2 201.3 880.0 204.7C882.8 208.0 885.6 213.0 886.7 214.7M803.3 191.3C806.1 189.7 813.9 184.1 820.0 181.3C826.1 178.6 832.8 176.3 840.0 174.7C847.2 173.0 856.1 172.7 863.3 171.3C870.6 169.9 876.7 168.3 883.3 166.3C890.0 164.4 898.3 161.6 903.3 159.7C908.3 157.7 911.7 155.5 913.3 154.7M713.1 231.3C713.9 231.0 716.7 230.8 717.7 229.5C718.7 228.1 718.6 224.7 719.0 223.1C719.5 221.4 720.2 220.0 720.4 219.4M695.8 218.0C697.0 217.4 700.3 215.4 703.1 213.9C705.8 212.5 709.9 210.3 712.2 209.4C714.5 208.5 716.0 208.6 716.8 208.5M753.3 219.4C754.8 219.6 759.2 219.9 762.4 220.3C765.6 220.8 769.6 221.4 772.5 222.2C775.4 222.9 778.4 223.8 779.8 224.9C781.2 226.0 780.9 227.8 780.7 228.5C780.5 229.3 779.2 229.3 778.9 229.5M727.8 177.4C728.3 176.6 730.2 175.0 730.9 173.1C731.7 171.2 732.2 168.1 732.3 165.7C732.4 163.2 732.3 160.9 731.8 158.4C731.2 156.0 729.4 153.5 729.0 151.0C728.6 148.6 728.8 146.1 729.2 143.9C729.5 141.6 730.3 139.3 731.0 137.5C731.7 135.7 732.5 134.9 733.5 133.1C734.5 131.2 736.1 128.9 736.9 126.5C737.8 124.1 737.6 121.0 738.4 118.9C739.2 116.8 740.7 115.6 741.7 113.8C742.6 112.1 743.4 110.4 744.3 108.2C745.1 106.1 746.3 102.7 746.8 100.7C747.4 98.6 747.7 96.8 747.9 96.0M746.3 183.1C746.5 182.3 746.7 180.2 747.5 178.4C748.4 176.5 750.1 174.3 751.3 172.2C752.6 170.1 754.4 167.8 755.1 165.8C755.8 163.8 755.7 162.2 755.6 160.3C755.6 158.3 755.4 156.0 755.0 154.2C754.5 152.5 754.0 151.6 752.9 149.8C751.9 148.0 749.5 145.7 748.7 143.4C747.8 141.2 748.1 138.4 747.8 136.3C747.6 134.2 746.9 132.8 747.1 130.9C747.3 128.9 748.7 125.8 749.1 124.7M732.0 175.1C731.9 174.2 731.9 171.8 731.6 170.0C731.2 168.3 730.0 166.5 729.9 164.6C729.7 162.7 730.0 160.7 730.7 158.7C731.3 156.7 733.2 155.0 734.0 152.8C734.8 150.6 735.3 147.8 735.5 145.4C735.6 143.0 734.7 140.6 734.8 138.3C734.9 136.0 735.5 134.0 735.9 131.7C736.2 129.4 737.2 127.1 737.0 124.7C736.9 122.2 735.3 118.4 735.0 117.2M743.2 185.1C743.5 183.9 744.1 179.9 745.1 177.9C746.0 176.0 747.6 175.4 749.0 173.6C750.3 171.7 752.3 168.7 753.1 166.7C753.9 164.8 754.1 163.9 753.9 161.9C753.7 159.9 752.4 157.0 752.1 154.7C751.8 152.5 752.0 150.4 752.1 148.6C752.2 146.8 752.3 145.7 752.6 143.9C753.0 142.1 753.7 139.9 754.2 138.0C754.7 136.0 755.4 134.1 755.8 132.2C756.3 130.4 756.7 127.8 756.8 126.9M727.0 179.9C727.3 179.1 728.5 177.1 728.9 175.3C729.3 173.5 729.1 170.9 729.4 168.9C729.7 166.9 729.8 165.3 730.5 163.1C731.2 160.9 732.6 157.6 733.8 155.9C735.0 154.1 736.4 153.9 737.9 152.6C739.5 151.3 741.5 149.6 743.1 148.0C744.7 146.4 746.4 144.6 747.4 143.1C748.5 141.5 749.1 140.3 749.4 138.5C749.7 136.7 748.7 134.4 749.1 132.2C749.6 129.9 750.9 126.8 752.1 124.8C753.3 122.9 755.2 122.1 756.6 120.3C757.9 118.6 758.9 115.9 760.0 114.3C761.2 112.6 762.9 111.1 763.5 110.4M736.1 184.2C736.7 183.7 738.7 182.5 739.8 181.1C741.0 179.8 742.1 177.7 743.1 176.1C744.2 174.6 744.8 173.2 746.4 171.8C747.9 170.3 750.1 168.3 752.3 167.3C754.6 166.3 757.7 166.6 759.8 165.6C761.8 164.6 763.4 163.2 764.8 161.3C766.3 159.5 766.9 156.5 768.3 154.5C769.6 152.4 771.8 150.7 772.9 149.0C774.0 147.3 773.8 146.1 774.8 144.5C775.9 142.9 777.7 141.0 779.2 139.4C780.7 137.9 782.1 136.3 783.8 135.2C785.4 134.1 787.3 133.7 789.0 132.7C790.6 131.7 792.8 129.6 793.5 129.0M737.6 190.6C738.2 189.8 740.1 187.9 740.8 186.2C741.5 184.5 741.4 182.5 741.8 180.5C742.2 178.4 743.1 176.1 743.2 173.8C743.3 171.6 742.7 168.9 742.4 166.9C742.2 164.8 741.7 163.7 741.8 161.7C742.0 159.6 742.5 156.6 743.5 154.5C744.4 152.4 746.5 151.0 747.5 148.9C748.6 146.8 748.9 144.0 750.0 142.1C751.2 140.1 752.4 138.7 754.4 137.3C756.3 136.0 759.2 135.2 761.5 134.0C763.9 132.8 765.9 130.9 768.3 130.0C770.6 129.1 774.3 129.0 775.5 128.8"/>
<path class="g3" d="M645.5 197.5C647.0 198.4 651.6 201.5 654.7 203.0C657.7 204.5 660.7 205.6 663.8 206.6C666.8 207.7 670.3 208.1 672.9 209.4C675.5 210.6 677.3 212.3 679.3 213.9C681.3 215.6 683.3 217.7 684.8 219.4C686.3 221.1 687.2 222.3 688.5 224.0C689.7 225.7 690.7 227.6 692.1 229.5C693.5 231.3 695.9 234.0 696.7 234.9M684.8 201.1C685.1 202.4 685.4 205.7 686.6 208.5C687.8 211.2 690.0 215.8 692.1 217.6C694.2 219.4 697.6 218.2 699.4 219.4C701.2 220.6 701.7 223.0 703.1 224.9C704.4 226.8 706.0 229.8 707.6 230.8C709.3 231.9 712.2 231.2 713.1 231.3M720.4 213.9C720.6 214.8 720.9 217.6 721.3 219.4C721.8 221.2 722.4 222.9 723.2 224.9C723.9 226.9 724.8 229.8 725.9 231.3C727.0 232.7 728.3 233.3 729.6 233.6C730.8 233.9 732.6 233.2 733.2 233.1M739.6 213.9C740.2 214.8 742.2 217.4 743.3 219.4C744.3 221.4 745.3 223.7 746.0 225.8C746.7 227.9 747.1 230.3 747.4 232.2C747.7 234.1 747.7 236.4 747.8 237.2M672.9 171.5C674.9 171.2 679.8 169.9 684.8 169.6C689.8 169.3 698.5 170.1 703.1 169.6C707.6 169.2 709.2 167.9 712.2 166.9C715.2 165.9 718.6 164.5 721.3 163.7C724.1 162.9 726.2 162.2 728.6 162.1C731.1 161.9 733.2 162.2 735.9 162.8C738.7 163.4 742.2 164.8 745.1 165.5C748.0 166.3 750.7 166.4 753.3 167.4C755.9 168.3 758.3 169.6 760.6 171.0C762.9 172.4 765.0 174.1 767.0 175.6C769.0 177.1 771.0 178.6 772.5 180.1C774.0 181.7 775.5 183.9 776.1 184.7M770.0 204.7C773.3 207.2 783.9 216.9 790.0 219.7C796.1 222.4 801.1 220.8 806.7 221.3C812.2 221.9 818.6 222.4 823.3 223.0C828.1 223.6 831.4 223.3 835.0 224.7C838.6 226.1 841.4 229.2 845.0 231.3C848.6 233.4 852.8 235.4 856.7 237.2C860.6 239.0 864.4 240.8 868.3 242.2C872.2 243.6 878.1 244.9 880.0 245.5M770.0 208.0C773.3 210.8 785.0 221.1 790.0 224.7C795.0 228.3 797.2 227.4 800.0 229.7C802.8 231.9 804.2 234.9 806.7 238.0C809.2 241.1 812.2 244.7 815.0 248.0C817.8 251.3 821.0 255.4 823.3 258.0C825.7 260.6 828.2 262.9 829.2 263.8M770.0 194.7C773.3 195.2 783.9 197.7 790.0 198.0C796.1 198.3 801.1 195.5 806.7 196.3C812.2 197.2 817.8 201.9 823.3 203.0C828.9 204.1 835.3 202.9 840.0 202.7C844.7 202.5 849.7 202.0 851.7 201.8M770.0 201.3C773.3 201.9 783.9 203.6 790.0 204.7C796.1 205.8 801.1 208.0 806.7 208.0C812.2 208.0 818.6 206.3 823.3 204.7C828.1 203.0 833.1 199.1 835.0 198.0M770.0 181.3C772.8 180.9 782.2 179.5 786.7 178.8C791.1 178.1 793.3 177.6 796.7 177.2C800.0 176.8 805.0 176.5 806.7 176.3M766.7 204.7C770.0 205.5 780.6 208.0 786.7 209.7C792.8 211.3 798.3 212.7 803.3 214.7C808.3 216.6 812.5 219.4 816.7 221.3C820.8 223.3 825.0 225.4 828.3 226.3C831.7 227.3 835.3 227.0 836.7 227.2M761.7 208.0C764.4 209.7 772.8 215.5 778.3 218.0C783.9 220.5 789.4 221.6 795.0 223.0C800.6 224.4 806.7 225.6 811.7 226.3C816.7 227.0 822.8 227.0 825.0 227.2M770.0 198.0C772.8 198.8 781.1 201.9 786.7 203.0C792.2 204.1 798.3 204.9 803.3 204.7C808.3 204.4 812.8 202.7 816.7 201.3C820.6 199.9 825.0 197.2 826.7 196.3M770.0 191.3C772.8 191.9 781.7 193.6 786.7 194.7C791.7 195.8 795.6 198.0 800.0 198.0C804.4 198.0 809.4 195.2 813.3 194.7C817.2 194.1 821.7 194.7 823.3 194.7M763.3 211.3C766.1 213.0 775.0 218.3 780.0 221.3C785.0 224.4 789.4 227.7 793.3 229.7C797.2 231.6 801.7 232.4 803.3 233.0M640.0 192.7C640.6 192.6 641.9 192.6 643.3 192.4C644.8 192.3 646.9 192.1 648.7 191.8C650.4 191.4 652.6 190.9 654.0 190.3C655.4 189.7 656.1 189.1 657.3 188.2C658.6 187.3 660.1 185.6 661.3 184.9C662.6 184.2 663.2 184.0 664.7 184.3C666.1 184.5 668.6 185.8 670.0 186.2C671.4 186.5 672.2 186.3 673.3 186.3C674.4 186.3 675.4 185.9 676.7 186.0C677.9 186.2 679.4 186.7 680.7 187.3C681.9 187.8 682.6 189.0 684.0 189.4C685.4 189.8 687.9 189.7 689.3 189.6C690.8 189.4 691.4 188.3 692.7 188.6C693.9 188.8 695.4 189.9 696.7 191.0C697.9 192.0 698.8 193.9 700.0 195.0C701.2 196.2 702.6 197.3 704.0 197.8C705.4 198.4 707.0 197.7 708.7 198.2C710.3 198.6 712.4 200.0 714.0 200.4C715.6 200.7 716.8 200.9 718.0 200.4C719.2 200.0 720.0 198.6 721.3 197.5C722.7 196.4 724.6 194.2 726.0 193.7C727.4 193.2 728.8 194.1 730.0 194.4C731.2 194.7 732.1 195.4 733.3 195.5C734.6 195.6 735.9 195.0 737.3 195.0C738.8 195.0 740.7 194.9 742.0 195.4C743.3 196.0 744.2 197.4 745.3 198.3C746.4 199.2 747.6 200.3 748.7 200.7C749.8 201.1 750.8 200.8 752.0 200.5C753.2 200.2 754.4 198.7 756.0 199.0C757.6 199.3 759.6 201.0 761.3 202.3C763.1 203.5 765.0 205.4 766.7 206.4C768.3 207.4 769.7 206.9 771.3 208.2C773.0 209.5 774.9 212.6 776.7 214.3C778.4 215.9 780.3 218.0 782.0 218.2C783.7 218.4 785.9 216.1 786.7 215.7M640.0 192.7C640.9 192.4 643.7 191.3 645.3 190.8C647.0 190.3 648.7 190.0 650.0 189.7C651.3 189.3 652.2 189.0 653.3 188.6C654.4 188.1 655.2 187.3 656.7 186.9C658.1 186.5 660.4 186.1 662.0 186.2C663.6 186.3 664.6 187.4 666.0 187.4C667.4 187.4 669.2 186.7 670.7 186.1C672.1 185.5 673.1 184.4 674.7 183.8C676.2 183.2 678.2 183.5 680.0 182.4C681.8 181.4 683.9 179.0 685.3 177.5C686.8 176.0 687.6 174.2 688.7 173.3C689.8 172.3 690.7 171.4 692.0 171.6C693.3 171.8 695.1 173.6 696.7 174.4C698.2 175.2 699.8 175.9 701.3 176.5C702.9 177.1 704.3 176.9 706.0 177.8C707.7 178.8 709.6 181.5 711.3 182.3C713.1 183.0 715.2 182.7 716.7 182.4C718.1 182.1 718.9 180.8 720.0 180.6C721.1 180.4 722.0 180.2 723.3 181.0C724.7 181.8 726.3 184.1 728.0 185.3C729.7 186.5 731.9 187.5 733.3 188.2C734.8 188.9 735.6 188.8 736.7 189.4C737.8 190.0 738.7 191.1 740.0 192.0C741.3 192.9 743.0 195.1 744.7 194.9C746.3 194.6 748.3 192.0 750.0 190.6C751.7 189.2 753.0 187.3 754.7 186.6C756.3 185.9 758.3 186.7 760.0 186.5C761.7 186.2 763.3 185.3 764.7 184.9C766.0 184.6 766.6 183.8 768.0 184.4C769.4 184.9 772.4 187.6 773.3 188.2M640.0 192.7C640.9 192.4 643.6 191.6 645.3 191.2C647.1 190.7 649.0 190.3 650.7 190.1C652.3 189.8 653.9 189.7 655.3 189.8C656.8 189.9 657.8 190.8 659.3 190.7C660.9 190.5 663.0 189.7 664.7 189.1C666.3 188.4 667.7 186.9 669.3 186.8C671.0 186.8 673.0 188.3 674.7 188.8C676.3 189.4 677.7 190.2 679.3 190.4C681.0 190.5 683.1 189.7 684.7 189.8C686.2 189.9 687.3 190.7 688.7 190.7C690.0 190.7 691.4 190.7 692.7 190.0C693.9 189.2 694.8 187.7 696.0 186.4C697.2 185.0 698.7 182.7 700.0 181.9C701.3 181.1 702.7 181.2 704.0 181.4C705.3 181.7 706.7 182.8 708.0 183.3C709.3 183.7 710.8 183.7 712.0 184.0C713.2 184.4 713.9 184.0 715.3 185.2C716.8 186.4 719.1 189.7 720.7 191.3C722.2 192.9 723.2 194.4 724.7 194.8C726.1 195.3 727.8 194.1 729.3 194.1C730.9 194.0 732.7 194.1 734.0 194.7C735.3 195.2 736.1 196.6 737.3 197.5C738.6 198.4 739.8 199.2 741.3 200.0C742.9 200.7 745.0 200.7 746.7 202.1C748.3 203.4 749.8 206.3 751.3 208.0C752.9 209.7 754.6 211.9 756.0 212.3C757.4 212.7 758.8 211.1 760.0 210.3C761.2 209.5 761.9 208.3 763.3 207.5C764.8 206.8 766.9 206.8 768.7 205.9C770.4 205.1 773.1 203.1 774.0 202.5M640.0 192.7C640.6 192.5 642.0 192.0 643.3 191.7C644.7 191.3 646.7 190.8 648.0 190.6C649.3 190.3 650.2 190.4 651.3 190.1C652.4 189.9 653.6 189.7 654.7 189.3C655.8 188.8 656.8 188.0 658.0 187.3C659.2 186.6 660.8 185.5 662.0 185.2C663.2 184.8 664.0 185.2 665.3 185.2C666.7 185.2 668.7 185.5 670.0 185.2C671.3 184.9 672.2 183.8 673.3 183.2C674.4 182.6 675.4 181.9 676.7 181.6C677.9 181.3 679.1 181.6 680.7 181.3C682.2 181.0 684.4 180.7 686.0 179.9C687.6 179.1 688.6 177.1 690.0 176.4C691.4 175.7 693.1 175.1 694.7 175.9C696.2 176.7 697.8 179.7 699.3 181.0C700.9 182.3 702.3 182.8 704.0 183.8C705.7 184.7 707.9 185.5 709.3 186.5C710.8 187.6 711.6 189.0 712.7 189.9C713.8 190.8 714.6 192.0 716.0 192.0C717.4 192.1 719.6 190.4 721.3 190.1C723.1 189.8 724.9 189.7 726.7 190.3C728.4 190.9 730.2 193.2 732.0 193.7C733.8 194.2 735.7 193.2 737.3 193.3C739.0 193.5 740.7 194.1 742.0 194.6C743.3 195.2 744.8 196.3 745.3 196.6M640.0 192.7C640.6 192.4 642.0 191.7 643.3 191.3C644.7 190.9 646.7 190.4 648.0 190.1C649.3 189.9 650.0 189.8 651.3 189.7C652.7 189.6 654.4 189.6 656.0 189.4C657.6 189.1 659.2 189.0 660.7 188.1C662.1 187.2 663.2 185.4 664.7 184.0C666.1 182.7 667.9 180.6 669.3 180.0C670.8 179.5 671.9 180.2 673.3 180.6C674.8 181.0 676.6 182.4 678.0 182.6C679.4 182.9 680.7 182.4 682.0 182.3C683.3 182.2 684.7 182.2 686.0 182.2C687.3 182.2 688.4 183.0 690.0 182.1C691.6 181.2 693.8 178.4 695.3 176.8C696.9 175.2 698.0 173.2 699.3 172.6C700.7 172.1 701.8 172.4 703.3 173.5C704.9 174.6 707.0 177.6 708.7 179.2C710.3 180.8 712.0 181.8 713.3 183.1C714.7 184.4 715.6 185.6 716.7 187.0C717.8 188.4 718.7 190.4 720.0 191.6C721.3 192.8 723.0 194.5 724.7 194.2C726.3 193.9 728.3 190.8 730.0 189.9C731.7 189.0 733.2 188.8 734.7 188.9C736.1 189.0 737.2 190.2 738.7 190.7C740.1 191.1 741.7 190.9 743.3 191.6C745.0 192.4 747.0 193.9 748.7 195.4C750.3 196.9 751.8 200.1 753.3 200.7C754.9 201.3 756.7 200.1 758.0 199.1C759.3 198.1 760.1 196.1 761.3 194.7C762.6 193.4 764.1 191.9 765.3 191.2C766.6 190.5 767.4 190.7 768.7 190.3C769.9 189.9 771.1 189.1 772.7 188.8C774.2 188.6 776.4 187.8 778.0 188.8C779.6 189.7 780.6 192.3 782.0 194.4C783.4 196.5 785.9 200.2 786.7 201.3M640.0 192.7C640.6 192.5 642.2 191.9 643.3 191.6C644.4 191.2 645.2 191.0 646.7 190.7C648.1 190.4 650.4 190.3 652.0 189.8C653.6 189.2 654.4 188.8 656.0 187.5C657.6 186.1 659.8 182.8 661.3 181.6C662.9 180.3 663.8 180.3 665.3 180.1C666.9 179.9 669.0 180.4 670.7 180.4C672.3 180.3 674.0 179.8 675.3 179.9C676.7 179.9 677.2 180.3 678.7 180.6C680.1 181.0 682.2 182.6 684.0 182.0C685.8 181.3 687.6 178.5 689.3 176.9C691.1 175.3 693.2 172.8 694.7 172.5C696.1 172.1 696.8 173.7 698.0 174.7C699.2 175.6 700.7 177.1 702.0 178.1C703.3 179.1 704.7 179.6 706.0 180.7C707.3 181.9 708.8 183.7 710.0 185.2C711.2 186.7 712.1 188.7 713.3 189.9C714.6 191.0 715.8 192.4 717.3 191.9C718.9 191.5 721.1 188.4 722.7 187.1C724.2 185.8 725.1 184.8 726.7 184.3C728.2 183.7 730.3 184.1 732.0 183.9C733.7 183.7 735.2 182.8 736.7 182.8C738.1 182.9 739.3 183.2 740.7 184.2C742.0 185.3 743.4 187.8 744.7 189.1C745.9 190.3 746.9 191.5 748.0 191.7C749.1 192.0 750.2 191.3 751.3 190.6C752.4 189.9 753.4 188.3 754.7 187.4C755.9 186.5 758.0 185.5 758.7 185.1M640.0 192.7C640.9 192.3 643.8 191.2 645.3 190.5C646.9 189.8 648.1 189.0 649.3 188.3C650.6 187.6 651.3 186.9 652.7 186.1C654.0 185.2 655.7 184.2 657.3 183.3C659.0 182.4 660.9 181.2 662.7 180.9C664.4 180.5 666.4 180.3 668.0 181.0C669.6 181.7 670.7 183.6 672.0 185.1C673.3 186.5 674.8 188.6 676.0 189.5C677.2 190.3 677.9 190.3 679.3 190.2C680.8 190.1 683.1 189.1 684.7 188.8C686.2 188.4 687.4 188.6 688.7 188.2C689.9 187.8 690.8 187.3 692.0 186.4C693.2 185.4 694.7 183.3 696.0 182.6C697.3 181.8 698.7 181.4 700.0 181.8C701.3 182.3 702.4 184.3 704.0 185.3C705.6 186.3 707.9 187.8 709.3 188.0C710.8 188.2 711.6 187.1 712.7 186.7C713.8 186.2 714.7 185.8 716.0 185.4C717.3 185.1 719.0 185.4 720.7 184.6C722.3 183.7 724.6 181.3 726.0 180.1C727.4 179.0 728.2 177.8 729.3 177.7C730.4 177.5 731.4 177.9 732.7 179.1C733.9 180.4 735.3 183.3 736.7 185.3C738.0 187.2 739.2 189.1 740.7 190.7C742.1 192.3 744.0 193.6 745.3 194.9C746.7 196.3 747.6 197.6 748.7 198.9C749.8 200.2 750.6 202.1 752.0 202.6C753.4 203.1 756.4 201.9 757.3 201.7M640.0 192.7C640.8 192.5 643.0 192.2 644.7 191.9C646.3 191.5 648.2 191.0 650.0 190.4C651.8 189.8 653.8 189.3 655.3 188.5C656.9 187.6 657.9 186.2 659.3 185.1C660.8 183.9 662.6 182.0 664.0 181.5C665.4 181.0 666.4 181.4 668.0 182.1C669.6 182.8 671.8 184.7 673.3 185.6C674.9 186.6 675.8 186.6 677.3 187.7C678.9 188.8 681.2 191.0 682.7 192.3C684.1 193.5 684.6 195.0 686.0 195.3C687.4 195.6 689.6 194.8 691.3 194.2C693.1 193.5 695.0 191.4 696.7 191.3C698.3 191.2 700.0 193.0 701.3 193.5C702.7 194.1 703.4 194.5 704.7 194.6C705.9 194.7 707.1 194.0 708.7 194.2C710.2 194.4 712.6 195.4 714.0 195.9C715.4 196.5 716.1 197.6 717.3 197.5C718.6 197.4 719.9 196.7 721.3 195.4C722.8 194.1 724.7 191.0 726.0 189.7C727.3 188.4 728.1 188.0 729.3 187.8C730.6 187.6 731.9 188.2 733.3 188.3C734.8 188.5 736.6 188.3 738.0 188.6C739.4 188.9 740.6 188.7 742.0 190.2C743.4 191.6 745.2 195.2 746.7 197.4C748.1 199.6 749.1 202.3 750.7 203.5C752.2 204.8 754.4 204.6 756.0 204.9C757.6 205.2 758.8 205.1 760.0 205.6C761.2 206.0 761.9 207.1 763.3 207.7C764.8 208.2 766.9 208.6 768.7 208.9C770.4 209.2 772.4 208.6 774.0 209.5C775.6 210.3 776.7 212.6 778.0 214.0C779.3 215.4 780.7 217.5 782.0 218.0C783.3 218.5 785.3 217.2 786.0 217.0M640.0 192.7C640.6 192.4 641.9 191.7 643.3 191.0C644.8 190.4 647.0 189.4 648.7 188.7C650.3 188.0 651.8 187.1 653.3 186.6C654.9 186.1 656.7 186.0 658.0 185.9C659.3 185.8 660.2 186.3 661.3 186.1C662.4 185.8 663.4 185.4 664.7 184.7C665.9 183.9 667.4 182.3 668.7 181.4C669.9 180.4 670.9 179.7 672.0 179.1C673.1 178.5 674.0 178.6 675.3 177.7C676.7 176.8 678.4 175.2 680.0 173.8C681.6 172.4 683.3 170.0 684.7 169.3C686.0 168.6 686.8 169.1 688.0 169.7C689.2 170.3 690.6 172.0 692.0 173.0C693.4 174.0 695.2 175.1 696.7 176.0C698.1 176.8 699.1 176.8 700.7 178.1C702.2 179.3 704.3 182.2 706.0 183.3C707.7 184.4 709.0 184.9 710.7 184.8C712.3 184.7 714.4 182.8 716.0 182.8C717.6 182.8 718.4 183.6 720.0 184.7C721.6 185.8 723.7 188.5 725.3 189.4C727.0 190.3 728.7 189.9 730.0 190.2C731.3 190.5 732.0 190.6 733.3 191.2C734.7 191.8 736.7 193.5 738.0 193.7C739.3 193.9 740.1 193.6 741.3 192.6C742.6 191.6 743.8 189.1 745.3 187.5C746.9 186.0 749.2 183.9 750.7 183.3C752.1 182.7 752.7 183.7 754.0 183.8C755.3 183.9 757.3 183.9 758.7 183.9C760.0 183.8 760.9 183.4 762.0 183.7C763.1 184.1 764.0 184.7 765.3 186.0C766.7 187.3 768.7 190.5 770.0 191.7C771.3 192.8 772.8 192.7 773.3 193.0M640.0 192.7C640.6 192.6 642.1 192.2 643.3 192.0C644.6 191.8 646.1 191.4 647.3 191.2C648.6 191.0 649.4 190.9 650.7 190.9C651.9 190.9 653.2 191.3 654.7 191.2C656.1 191.1 658.0 190.6 659.3 190.1C660.7 189.6 661.4 188.6 662.7 188.2C663.9 187.8 665.3 187.5 666.7 187.7C668.0 187.9 669.2 188.9 670.7 189.3C672.1 189.7 673.8 189.8 675.3 190.0C676.9 190.2 678.6 190.1 680.0 190.4C681.4 190.8 682.6 192.1 684.0 192.2C685.4 192.2 687.0 192.4 688.7 190.9C690.3 189.4 692.4 184.7 694.0 182.9C695.6 181.1 696.6 180.5 698.0 180.0C699.4 179.5 701.1 180.1 702.7 180.1C704.2 180.0 706.0 179.4 707.3 179.5C708.7 179.5 709.3 179.3 710.7 180.3C712.0 181.3 714.0 184.2 715.3 185.6C716.7 187.1 717.6 188.4 718.7 189.0C719.8 189.6 720.9 189.5 722.0 189.3C723.1 189.2 724.1 188.2 725.3 188.1C726.6 187.9 727.8 188.0 729.3 188.6C730.9 189.2 733.1 191.1 734.7 191.8C736.2 192.5 737.1 191.8 738.7 192.7C740.2 193.5 742.6 195.3 744.0 196.9C745.4 198.5 745.9 200.8 747.3 202.4C748.8 204.1 751.8 206.1 752.7 206.9M640.0 192.7C640.8 193.0 643.3 194.2 644.7 194.8C646.0 195.3 646.8 195.7 648.0 195.7C649.2 195.8 650.8 195.3 652.0 195.2C653.2 195.2 654.2 195.3 655.3 195.6C656.4 196.0 657.3 196.7 658.7 197.3C660.0 198.0 661.7 198.8 663.3 199.5C665.0 200.2 667.1 201.1 668.7 201.7C670.2 202.2 671.4 202.5 672.7 202.8C673.9 203.0 674.9 203.1 676.0 203.2C677.1 203.4 677.9 203.9 679.3 203.7C680.8 203.4 683.0 201.8 684.7 201.8C686.3 201.8 687.9 203.4 689.3 203.8C690.8 204.2 691.9 204.4 693.3 204.3C694.8 204.2 696.7 203.3 698.0 203.2C699.3 203.2 699.9 203.7 701.3 204.2C702.8 204.6 705.1 206.0 706.7 205.8C708.2 205.5 709.3 203.8 710.7 202.8C712.0 201.7 713.2 199.8 714.7 199.4C716.1 199.0 717.7 199.6 719.3 200.1C721.0 200.7 723.2 202.1 724.7 202.6C726.1 203.2 726.7 202.6 728.0 203.5C729.3 204.4 731.1 206.3 732.7 208.2C734.2 210.1 736.6 213.9 737.3 215.1M640.0 192.7C640.8 192.6 643.0 192.6 644.7 192.3C646.3 192.0 648.6 191.1 650.0 190.8C651.4 190.5 651.9 190.1 653.3 190.4C654.8 190.7 657.0 192.2 658.7 192.8C660.3 193.4 661.9 193.9 663.3 194.1C664.8 194.4 666.0 194.0 667.3 194.3C668.7 194.6 670.1 195.4 671.3 195.9C672.6 196.4 673.6 197.0 674.7 197.2C675.8 197.4 676.7 197.1 678.0 196.9C679.3 196.8 681.3 196.1 682.7 196.3C684.0 196.6 684.8 197.5 686.0 198.3C687.2 199.0 688.4 200.9 690.0 200.9C691.6 200.9 693.9 199.3 695.3 198.4C696.8 197.5 697.2 196.4 698.7 195.5C700.1 194.6 702.6 193.8 704.0 193.0C705.4 192.1 706.0 191.7 707.3 190.4C708.7 189.1 710.4 186.1 712.0 185.3C713.6 184.4 715.2 184.5 716.7 185.2C718.1 185.9 719.4 188.2 720.7 189.4C721.9 190.6 722.8 191.5 724.0 192.3C725.2 193.1 726.4 193.0 728.0 194.2C729.6 195.4 731.7 197.8 733.3 199.5C735.0 201.2 736.3 203.4 738.0 204.2C739.7 205.1 741.8 204.2 743.3 204.7C744.9 205.2 745.9 205.6 747.3 207.2C748.8 208.8 750.6 212.5 752.0 214.3C753.4 216.1 754.8 217.3 756.0 218.0C757.2 218.8 758.8 218.7 759.3 218.8M640.0 192.7C640.6 192.6 642.1 192.3 643.3 192.1C644.6 191.8 645.9 191.2 647.3 191.1C648.8 191.0 650.7 191.2 652.0 191.5C653.3 191.9 653.9 192.6 655.3 193.3C656.8 194.1 658.9 195.5 660.7 196.1C662.4 196.7 664.6 196.9 666.0 197.1C667.4 197.3 668.2 197.6 669.3 197.2C670.4 196.8 671.4 196.1 672.7 194.9C673.9 193.8 675.1 191.4 676.7 190.3C678.2 189.2 680.3 188.3 682.0 188.2C683.7 188.1 685.3 189.6 686.7 189.7C688.0 189.9 688.6 189.6 690.0 189.2C691.4 188.8 693.9 187.7 695.3 187.5C696.8 187.3 697.6 188.1 698.7 188.1C699.8 188.1 700.9 188.1 702.0 187.5C703.1 186.9 703.9 185.6 705.3 184.4C706.8 183.1 709.0 180.2 710.7 180.2C712.3 180.1 714.0 182.7 715.3 184.0C716.7 185.4 717.3 186.8 718.7 188.5C720.0 190.1 721.9 192.0 723.3 193.9C724.8 195.9 726.0 198.0 727.3 200.3C728.7 202.6 730.0 205.9 731.3 207.7C732.7 209.4 733.8 210.7 735.3 210.8C736.9 210.9 738.9 208.5 740.7 208.1C742.4 207.8 745.1 208.5 746.0 208.6M640.0 192.7C640.7 193.0 642.6 193.8 644.0 194.4C645.4 195.1 647.1 196.1 648.7 196.6C650.2 197.1 651.8 197.1 653.3 197.4C654.9 197.7 656.6 198.5 658.0 198.6C659.4 198.7 660.8 198.1 662.0 197.9C663.2 197.6 663.9 196.6 665.3 197.0C666.8 197.3 669.2 198.9 670.7 199.9C672.1 200.9 672.6 202.3 674.0 202.9C675.4 203.6 677.7 203.5 679.3 203.7C681.0 203.9 682.7 204.1 684.0 204.3C685.3 204.5 686.1 204.8 687.3 204.8C688.6 204.7 689.8 205.3 691.3 204.1C692.9 202.9 695.0 198.7 696.7 197.6C698.3 196.4 699.8 196.8 701.3 197.4C702.9 197.9 704.3 200.0 706.0 200.9C707.7 201.9 709.6 202.0 711.3 203.1C713.1 204.2 714.9 206.1 716.7 207.5C718.4 208.8 720.6 210.7 722.0 211.1C723.4 211.5 724.1 210.3 725.3 209.8C726.6 209.2 727.9 207.8 729.3 208.0C730.8 208.2 732.7 209.9 734.0 210.9C735.3 212.0 735.9 213.2 737.3 214.3C738.8 215.3 741.2 216.7 742.7 217.3C744.1 218.0 745.4 218.0 746.0 218.2M640.0 192.7C640.6 192.9 642.1 193.6 643.3 193.9C644.6 194.2 645.9 194.6 647.3 194.7C648.8 194.8 650.4 194.1 652.0 194.5C653.6 194.8 655.2 195.8 656.7 196.7C658.1 197.6 659.2 199.2 660.7 200.0C662.1 200.7 664.0 201.1 665.3 201.5C666.7 201.8 667.3 201.9 668.7 202.1C670.0 202.3 671.9 203.0 673.3 202.9C674.8 202.8 675.8 202.1 677.3 201.5C678.9 200.9 680.9 198.7 682.7 199.0C684.4 199.4 686.2 202.5 688.0 203.6C689.8 204.7 691.9 205.2 693.3 205.6C694.8 206.0 695.4 205.9 696.7 206.1C697.9 206.4 699.4 206.7 700.7 206.9C701.9 207.2 702.6 208.4 704.0 207.6C705.4 206.8 707.6 204.0 709.3 202.2C711.1 200.5 712.9 197.3 714.7 197.0C716.4 196.7 718.3 199.3 720.0 200.7C721.7 202.1 723.2 204.0 724.7 205.4C726.1 206.8 727.1 207.4 728.7 209.0C730.2 210.6 732.3 213.8 734.0 215.1C735.7 216.3 737.0 216.3 738.7 216.4C740.3 216.4 743.1 215.7 744.0 215.5M640.0 192.7C640.8 192.4 643.1 191.6 644.7 190.9C646.2 190.2 647.8 189.2 649.3 188.6C650.9 188.1 652.7 187.6 654.0 187.6C655.3 187.5 655.9 188.0 657.3 188.2C658.8 188.4 660.9 188.7 662.7 188.9C664.4 189.1 666.6 189.2 668.0 189.4C669.4 189.6 670.0 190.4 671.3 190.1C672.7 189.8 674.3 189.2 676.0 187.7C677.7 186.3 679.7 182.8 681.3 181.4C683.0 180.0 684.7 179.9 686.0 179.5C687.3 179.2 688.0 179.7 689.3 179.2C690.7 178.8 692.7 177.3 694.0 176.9C695.3 176.5 696.2 176.5 697.3 176.8C698.4 177.2 699.3 178.2 700.7 178.8C702.0 179.5 703.9 180.9 705.3 180.8C706.8 180.7 708.0 179.2 709.3 178.4C710.7 177.5 711.9 176.0 713.3 175.9C714.8 175.8 716.3 177.0 718.0 177.8C719.7 178.6 721.7 179.8 723.3 180.8C725.0 181.8 726.6 182.1 728.0 183.5C729.4 185.0 730.6 187.4 732.0 189.5C733.4 191.6 735.0 195.1 736.7 196.1C738.3 197.2 740.6 196.0 742.0 195.7C743.4 195.4 744.8 194.8 745.3 194.6M640.0 192.7C640.8 192.0 643.0 190.0 644.7 188.8C646.3 187.6 648.6 186.4 650.0 185.5C651.4 184.6 652.1 184.3 653.3 183.5C654.6 182.8 656.0 181.9 657.3 181.0C658.7 180.0 659.8 179.1 661.3 177.9C662.9 176.8 664.9 175.1 666.7 174.0C668.4 172.9 670.3 172.1 672.0 171.4C673.7 170.7 675.1 170.4 676.7 170.0C678.2 169.6 679.8 169.2 681.3 168.9C682.9 168.5 684.4 167.6 686.0 167.7C687.6 167.9 689.1 169.2 690.7 169.9C692.2 170.5 693.7 171.6 695.3 171.7C697.0 171.7 699.1 170.2 700.7 170.2C702.2 170.3 703.2 171.0 704.7 172.0C706.1 172.9 707.7 175.2 709.3 176.2C711.0 177.2 712.9 177.1 714.7 177.9C716.4 178.8 718.6 180.1 720.0 181.0C721.4 181.9 722.1 183.2 723.3 183.3C724.6 183.5 726.0 183.0 727.3 181.9C728.7 180.7 730.1 177.8 731.3 176.5C732.6 175.1 733.4 174.3 734.7 174.0C735.9 173.7 738.0 174.7 738.7 174.8M640.0 192.7C640.6 192.8 642.1 193.2 643.3 193.6C644.6 193.9 645.9 194.4 647.3 194.5C648.8 194.6 650.7 194.3 652.0 194.3C653.3 194.3 654.0 194.6 655.3 194.7C656.7 194.8 658.6 195.0 660.0 194.7C661.4 194.4 662.6 193.4 664.0 192.8C665.4 192.2 667.1 191.7 668.7 191.2C670.2 190.7 671.9 190.6 673.3 189.9C674.8 189.3 676.1 187.9 677.3 187.2C678.6 186.4 679.2 185.1 680.7 185.5C682.1 185.9 684.2 187.7 686.0 189.5C687.8 191.2 689.6 194.1 691.3 195.9C693.1 197.7 695.1 198.6 696.7 200.1C698.2 201.6 699.1 203.6 700.7 204.9C702.2 206.2 704.3 207.8 706.0 208.0C707.7 208.2 709.1 206.4 710.7 206.1C712.2 205.7 714.0 205.5 715.3 205.9C716.7 206.2 717.2 207.5 718.7 208.1C720.1 208.7 722.3 209.4 724.0 209.6C725.7 209.9 727.1 209.2 728.7 209.4C730.2 209.7 731.9 211.2 733.3 211.3C734.8 211.5 736.0 211.4 737.3 210.4C738.7 209.3 740.1 206.6 741.3 205.1C742.6 203.6 743.3 202.0 744.7 201.3C746.0 200.7 747.9 200.9 749.3 201.1C750.8 201.3 751.8 202.1 753.3 202.5C754.9 203.0 756.9 202.5 758.7 203.9C760.4 205.4 762.2 209.0 764.0 211.3C765.8 213.6 767.6 216.5 769.3 217.6C771.1 218.6 773.0 217.1 774.7 217.5C776.3 217.8 778.0 218.8 779.3 219.6C780.7 220.4 781.4 221.5 782.7 222.1C783.9 222.7 786.0 222.9 786.7 223.1M640.0 192.7C640.9 192.9 643.8 193.9 645.3 194.4C646.9 194.8 648.1 195.0 649.3 195.1C650.6 195.2 651.4 195.2 652.7 194.9C653.9 194.7 655.3 194.3 656.7 193.6C658.0 192.8 659.3 190.9 660.7 190.2C662.0 189.4 663.4 188.9 664.7 189.1C665.9 189.2 666.6 190.0 668.0 191.1C669.4 192.1 671.9 194.5 673.3 195.5C674.8 196.5 675.6 196.6 676.7 197.2C677.8 197.8 678.9 198.4 680.0 199.1C681.1 199.9 682.1 201.1 683.3 201.5C684.6 201.9 686.0 202.3 687.3 201.7C688.7 201.0 690.1 198.7 691.3 197.4C692.6 196.1 693.3 194.4 694.7 194.0C696.0 193.5 697.9 194.3 699.3 194.8C700.8 195.4 701.9 196.7 703.3 197.3C704.8 197.9 706.3 197.7 708.0 198.4C709.7 199.1 711.9 200.7 713.3 201.6C714.8 202.4 715.6 203.3 716.7 203.4C717.8 203.4 718.9 202.7 720.0 201.8C721.1 200.8 722.0 198.9 723.3 197.4C724.7 196.0 726.6 193.7 728.0 193.0C729.4 192.4 730.4 193.2 732.0 193.6C733.6 194.0 735.7 194.5 737.3 195.3C739.0 196.2 740.6 197.0 742.0 198.7C743.4 200.4 744.8 203.5 746.0 205.4C747.2 207.3 748.2 209.2 749.3 210.1C750.4 210.9 751.3 211.1 752.7 210.7C754.0 210.3 755.7 208.2 757.3 207.6C759.0 207.0 761.0 207.3 762.7 207.1C764.3 207.0 765.8 206.9 767.3 206.8C768.9 206.6 770.6 205.8 772.0 206.4C773.4 206.9 774.4 208.6 776.0 210.3C777.6 212.0 779.8 215.7 781.3 216.6C782.9 217.4 784.7 215.6 785.3 215.4M640.0 192.7C640.7 192.3 642.4 191.5 644.0 190.7C645.6 189.9 647.7 188.6 649.3 188.0C651.0 187.4 652.6 187.3 654.0 187.0C655.4 186.7 656.4 186.1 658.0 186.1C659.6 186.1 661.9 186.5 663.3 186.9C664.8 187.2 665.3 188.3 666.7 188.4C668.0 188.5 669.7 188.3 671.3 187.5C673.0 186.8 675.0 184.5 676.7 183.9C678.3 183.3 679.7 184.0 681.3 183.9C683.0 183.8 685.1 183.8 686.7 183.4C688.2 183.0 689.4 181.9 690.7 181.7C691.9 181.4 692.7 181.4 694.0 182.0C695.3 182.7 697.3 184.9 698.7 185.5C700.0 186.0 700.8 185.8 702.0 185.2C703.2 184.7 704.4 182.9 706.0 182.2C707.6 181.5 709.8 181.1 711.3 181.1C712.9 181.1 713.9 182.1 715.3 182.3C716.8 182.4 718.6 181.7 720.0 181.9C721.4 182.1 722.7 182.2 724.0 183.4C725.3 184.6 726.4 187.0 728.0 188.9C729.6 190.8 731.8 193.8 733.3 194.9C734.9 195.9 735.9 194.9 737.3 195.2C738.8 195.6 740.4 196.0 742.0 196.7C743.6 197.4 745.3 198.9 746.7 199.3C748.0 199.6 748.6 199.0 750.0 198.8C751.4 198.7 753.8 197.7 755.3 198.2C756.9 198.7 758.0 200.7 759.3 201.9C760.7 203.1 762.7 204.7 763.3 205.2M640.0 192.7C640.6 192.8 642.1 193.3 643.3 193.5C644.6 193.7 645.8 194.1 647.3 194.0C648.9 193.9 650.9 193.2 652.7 192.8C654.4 192.5 656.3 192.0 658.0 191.8C659.7 191.7 661.3 191.4 662.7 191.8C664.0 192.1 664.9 192.9 666.0 194.0C667.1 195.1 668.1 196.9 669.3 198.3C670.6 199.7 671.9 201.8 673.3 202.4C674.8 203.0 676.6 202.3 678.0 201.9C679.4 201.5 680.7 200.5 682.0 200.0C683.3 199.5 684.4 199.7 686.0 198.9C687.6 198.1 689.9 196.2 691.3 195.2C692.8 194.3 693.3 192.9 694.7 193.0C696.0 193.1 697.7 194.4 699.3 195.8C701.0 197.2 703.0 200.6 704.7 201.4C706.3 202.2 707.8 201.2 709.3 200.7C710.9 200.3 712.3 199.4 714.0 198.8C715.7 198.2 717.8 198.0 719.3 197.1C720.9 196.3 722.1 194.5 723.3 193.7C724.6 192.9 725.6 191.9 726.7 192.1C727.8 192.2 728.9 193.2 730.0 194.6C731.1 196.1 732.0 198.4 733.3 200.5C734.7 202.7 737.2 206.5 738.0 207.6M640.0 192.7C640.8 192.4 643.0 191.5 644.7 191.1C646.3 190.8 648.6 190.7 650.0 190.5C651.4 190.2 652.2 190.0 653.3 189.8C654.4 189.6 655.2 189.7 656.7 189.3C658.1 188.9 660.4 188.3 662.0 187.4C663.6 186.4 664.6 184.6 666.0 183.4C667.4 182.1 669.0 180.5 670.7 179.8C672.3 179.1 674.4 179.8 676.0 179.3C677.6 178.8 678.6 178.0 680.0 176.8C681.4 175.6 683.1 173.2 684.7 172.1C686.2 171.0 687.7 171.0 689.3 170.3C691.0 169.6 693.2 168.7 694.7 168.2C696.1 167.7 696.6 166.6 698.0 167.2C699.4 167.8 701.8 169.7 703.3 171.6C704.9 173.4 705.8 176.4 707.3 178.5C708.9 180.6 711.2 182.7 712.7 183.9C714.1 185.2 714.6 184.9 716.0 186.2C717.4 187.4 719.9 190.3 721.3 191.4C722.8 192.5 723.2 193.0 724.7 192.8C726.1 192.5 728.6 190.6 730.0 190.1C731.4 189.6 732.2 189.4 733.3 189.7C734.4 189.9 735.3 191.0 736.7 191.5C738.0 191.9 739.9 192.6 741.3 192.3C742.8 192.1 744.1 190.6 745.3 190.0C746.6 189.3 747.3 188.9 748.7 188.6C750.0 188.3 751.8 189.0 753.3 188.2C754.9 187.4 757.2 184.5 758.0 183.8M640.0 192.7C640.7 192.8 642.8 193.1 644.0 193.3C645.2 193.5 645.9 193.5 647.3 193.9C648.8 194.2 650.9 194.9 652.7 195.3C654.4 195.7 656.2 195.9 658.0 196.4C659.8 196.9 661.7 197.5 663.3 198.2C665.0 198.8 666.3 200.1 668.0 200.4C669.7 200.8 671.6 199.9 673.3 200.2C675.1 200.6 677.1 201.8 678.7 202.5C680.2 203.1 681.1 203.8 682.7 204.1C684.2 204.5 686.4 204.9 688.0 204.4C689.6 203.9 690.8 202.0 692.0 201.1C693.2 200.3 694.0 200.2 695.3 199.4C696.7 198.7 698.6 197.9 700.0 196.6C701.4 195.4 702.7 193.1 704.0 192.0C705.3 190.9 706.6 189.7 708.0 189.9C709.4 190.2 711.1 192.4 712.7 193.6C714.2 194.9 715.7 196.3 717.3 197.4C719.0 198.4 721.0 198.5 722.7 199.7C724.3 201.0 726.0 203.5 727.3 204.9C728.7 206.3 730.1 207.7 730.7 208.2M640.0 192.7C640.9 192.0 643.9 189.6 645.3 188.5C646.8 187.4 647.6 186.7 648.7 186.1C649.8 185.4 650.7 185.2 652.0 184.6C653.3 184.0 655.3 183.3 656.7 182.5C658.0 181.8 658.8 181.0 660.0 180.0C661.2 179.1 662.8 177.6 664.0 177.0C665.2 176.3 665.9 176.4 667.3 176.0C668.8 175.7 670.9 176.1 672.7 175.0C674.4 173.9 676.2 170.8 678.0 169.7C679.8 168.6 681.8 168.7 683.3 168.4C684.9 168.0 686.0 167.7 687.3 167.4C688.7 167.1 690.0 166.7 691.3 166.5C692.7 166.3 693.8 165.9 695.3 166.1C696.9 166.3 698.9 166.0 700.7 167.5C702.4 169.1 704.4 173.6 706.0 175.1C707.6 176.7 708.8 176.4 710.0 177.0C711.2 177.5 712.0 177.9 713.3 178.7C714.7 179.5 716.4 181.3 718.0 181.7C719.6 182.0 721.1 181.2 722.7 180.8C724.2 180.4 725.8 179.0 727.3 179.4C728.9 179.8 730.4 182.1 732.0 183.3C733.6 184.5 735.1 186.3 736.7 186.7C738.2 187.0 739.8 185.6 741.3 185.2C742.9 184.7 744.6 184.4 746.0 184.0C747.4 183.6 748.4 183.8 750.0 182.8C751.6 181.7 753.8 178.5 755.3 177.7C756.9 177.0 758.0 178.2 759.3 178.4C760.7 178.7 762.0 178.9 763.3 179.1C764.7 179.4 766.0 179.6 767.3 179.8C768.7 180.0 770.0 180.0 771.3 180.3C772.7 180.7 773.9 180.8 775.3 182.0C776.8 183.2 778.6 186.3 780.0 187.5C781.4 188.7 783.3 188.9 784.0 189.2M640.0 192.7C640.9 192.3 643.8 190.9 645.3 190.3C646.9 189.7 647.8 189.2 649.3 189.1C650.9 188.9 653.0 189.3 654.7 189.3C656.3 189.4 658.0 189.3 659.3 189.3C660.7 189.2 661.3 189.3 662.7 189.2C664.0 189.2 665.9 189.6 667.3 189.0C668.8 188.4 670.1 186.9 671.3 185.7C672.6 184.5 673.6 182.7 674.7 181.6C675.8 180.6 676.8 179.7 678.0 179.4C679.2 179.1 680.7 179.7 682.0 179.8C683.3 180.0 684.8 180.3 686.0 180.3C687.2 180.2 688.0 179.5 689.3 179.4C690.7 179.4 692.6 179.4 694.0 180.0C695.4 180.5 696.4 182.7 698.0 183.0C699.6 183.4 701.7 182.6 703.3 182.0C705.0 181.4 706.7 179.6 708.0 179.4C709.3 179.2 710.2 180.0 711.3 180.8C712.4 181.5 713.3 182.8 714.7 183.8C716.0 184.8 717.9 185.8 719.3 186.8C720.8 187.8 722.7 189.4 723.3 189.9M640.0 192.7C640.8 192.5 643.0 192.1 644.7 191.7C646.3 191.3 648.3 190.9 650.0 190.4C651.7 189.9 653.2 189.1 654.7 188.6C656.1 188.2 657.2 188.2 658.7 187.8C660.1 187.4 662.0 186.7 663.3 186.2C664.7 185.7 665.4 185.0 666.7 184.8C667.9 184.6 669.4 184.8 670.7 185.0C671.9 185.1 672.6 186.1 674.0 185.6C675.4 185.1 677.6 183.7 679.3 182.1C681.1 180.5 683.2 177.3 684.7 176.0C686.1 174.8 686.6 175.1 688.0 174.6C689.4 174.2 691.9 173.4 693.3 173.2C694.8 172.9 695.2 172.2 696.7 173.1C698.1 174.1 700.4 176.8 702.0 178.8C703.6 180.8 704.8 183.8 706.0 185.3C707.2 186.8 708.1 187.5 709.3 187.8C710.6 188.2 711.8 187.4 713.3 187.4C714.9 187.5 717.0 187.8 718.7 188.1C720.3 188.3 721.7 188.9 723.3 188.7C725.0 188.5 727.0 186.7 728.7 186.8C730.3 187.0 731.8 188.3 733.3 189.7C734.9 191.0 736.3 194.2 738.0 195.0C739.7 195.8 741.9 194.9 743.3 194.5C744.8 194.1 746.1 192.8 746.7 192.5M640.0 192.7C640.7 192.6 642.8 192.3 644.0 192.3C645.2 192.3 645.9 192.6 647.3 192.7C648.8 192.8 651.1 193.1 652.7 192.8C654.2 192.4 655.1 191.5 656.7 190.5C658.2 189.6 660.6 187.7 662.0 187.0C663.4 186.3 664.2 186.6 665.3 186.3C666.4 186.0 667.2 185.8 668.7 185.1C670.1 184.4 672.3 182.7 674.0 182.3C675.7 181.9 677.0 182.9 678.7 182.7C680.3 182.5 682.4 182.2 684.0 181.2C685.6 180.2 686.7 177.7 688.0 176.5C689.3 175.2 690.8 173.9 692.0 173.7C693.2 173.5 694.2 174.4 695.3 175.2C696.4 175.9 697.4 177.2 698.7 178.3C699.9 179.3 701.1 179.6 702.7 181.3C704.2 183.1 706.6 186.4 708.0 188.6C709.4 190.9 710.0 193.1 711.3 194.8C712.7 196.5 714.6 198.4 716.0 198.8C717.4 199.1 718.7 197.5 720.0 197.1C721.3 196.6 722.6 196.1 724.0 196.0C725.4 195.9 727.1 196.6 728.7 196.3C730.2 196.1 731.9 194.9 733.3 194.4C734.8 193.9 736.0 193.1 737.3 193.4C738.7 193.6 740.1 195.1 741.3 195.9C742.6 196.6 743.6 197.7 744.7 197.9C745.8 198.0 746.6 197.8 748.0 196.6C749.4 195.4 751.6 192.2 753.3 190.8C755.1 189.3 757.1 188.7 758.7 187.9C760.2 187.0 762.0 185.9 762.7 185.5M640.0 192.7C640.7 193.0 642.7 193.9 644.0 194.7C645.3 195.4 646.4 196.6 648.0 197.2C649.6 197.8 651.8 198.0 653.3 198.4C654.9 198.7 655.8 198.9 657.3 199.4C658.9 199.8 661.1 200.6 662.7 201.0C664.2 201.4 665.3 201.5 666.7 201.7C668.0 202.0 669.4 202.3 670.7 202.5C671.9 202.7 672.6 202.7 674.0 202.9C675.4 203.2 677.8 203.5 679.3 203.7C680.9 203.9 681.8 204.3 683.3 204.2C684.9 204.1 687.0 203.3 688.7 203.0C690.3 202.6 692.0 202.6 693.3 202.1C694.7 201.7 695.4 201.2 696.7 200.5C697.9 199.7 699.3 198.0 700.7 197.7C702.0 197.3 703.3 197.6 704.7 198.4C706.0 199.2 707.4 201.4 708.7 202.5C709.9 203.6 710.9 204.5 712.0 205.0C713.1 205.5 714.0 205.2 715.3 205.6C716.7 206.0 718.7 206.5 720.0 207.4C721.3 208.3 721.9 209.9 723.3 210.9C724.8 211.9 726.9 212.8 728.7 213.5C730.4 214.2 732.3 214.6 734.0 215.1C735.7 215.6 737.0 215.9 738.7 216.4C740.3 216.8 742.3 217.3 744.0 217.7C745.7 218.1 747.2 218.4 748.7 218.8C750.1 219.2 751.1 219.5 752.7 219.8C754.2 220.1 756.2 220.3 758.0 220.5C759.8 220.7 762.4 221.0 763.3 221.1M640.0 192.7C640.9 192.7 643.6 192.9 645.3 192.9C647.1 193.0 649.2 192.8 650.7 193.0C652.1 193.2 652.9 193.7 654.0 194.1C655.1 194.5 656.1 195.1 657.3 195.3C658.6 195.6 659.9 195.4 661.3 195.4C662.8 195.3 664.3 195.0 666.0 194.9C667.7 194.7 669.7 194.9 671.3 194.4C673.0 193.9 674.7 192.3 676.0 191.7C677.3 191.2 677.9 190.6 679.3 191.3C680.8 191.9 683.2 194.6 684.7 195.6C686.1 196.6 686.9 197.4 688.0 197.5C689.1 197.7 690.1 197.2 691.3 196.6C692.6 196.1 694.1 194.9 695.3 194.3C696.6 193.8 697.3 194.1 698.7 193.4C700.0 192.8 702.0 191.6 703.3 190.4C704.7 189.2 705.6 187.3 706.7 186.2C707.8 185.0 708.6 183.3 710.0 183.4C711.4 183.5 713.8 185.5 715.3 186.8C716.9 188.1 718.1 190.1 719.3 191.2C720.6 192.3 721.6 192.6 722.7 193.2C723.8 193.9 724.9 194.4 726.0 195.2C727.1 196.0 728.1 197.4 729.3 198.3C730.6 199.3 732.0 200.8 733.3 201.0C734.7 201.2 735.8 200.1 737.3 199.4C738.9 198.8 741.0 196.7 742.7 197.1C744.3 197.4 745.9 199.9 747.3 201.3C748.8 202.7 750.0 204.3 751.3 205.3C752.7 206.3 754.1 206.5 755.3 207.2C756.6 207.8 757.3 208.3 758.7 209.2C760.0 210.1 761.8 212.4 763.3 212.4C764.9 212.4 766.6 210.9 768.0 209.3C769.4 207.8 770.6 204.6 772.0 202.9C773.4 201.2 775.9 199.6 776.7 198.9M640.0 192.7C640.7 192.4 642.6 191.9 644.0 191.1C645.4 190.3 647.1 188.9 648.7 187.9C650.2 187.0 652.0 185.9 653.3 185.4C654.7 185.0 655.4 185.2 656.7 185.3C657.9 185.4 659.3 186.0 660.7 186.2C662.0 186.4 663.1 186.1 664.7 186.3C666.2 186.5 668.4 186.9 670.0 187.2C671.6 187.6 672.6 188.4 674.0 188.4C675.4 188.4 677.1 187.5 678.7 187.2C680.2 186.9 681.7 185.8 683.3 186.4C685.0 186.9 687.1 189.6 688.7 190.5C690.2 191.4 691.2 191.9 692.7 191.8C694.1 191.7 696.0 190.3 697.3 189.8C698.7 189.3 699.6 189.1 700.7 188.8C701.8 188.5 702.7 188.8 704.0 187.8C705.3 186.8 707.0 184.7 708.7 182.6C710.3 180.5 712.6 176.5 714.0 175.2C715.4 173.9 716.0 174.4 717.3 174.7C718.7 175.1 720.3 176.6 722.0 177.4C723.7 178.1 725.7 178.1 727.3 179.0C729.0 180.0 730.4 181.4 732.0 183.0C733.6 184.5 735.0 187.5 736.7 188.4C738.3 189.4 740.3 188.5 742.0 188.7C743.7 188.8 745.2 188.3 746.7 189.2C748.1 190.0 750.0 193.1 750.7 193.9M640.0 192.7C640.8 192.6 643.3 192.1 644.7 192.0C646.0 191.9 646.9 192.0 648.0 192.0C649.1 192.0 650.1 192.0 651.3 192.1C652.6 192.2 654.0 192.2 655.3 192.5C656.7 192.8 657.9 193.7 659.3 194.0C660.8 194.3 662.3 195.1 664.0 194.4C665.7 193.6 667.6 191.0 669.3 189.5C671.1 188.1 673.0 186.4 674.7 185.8C676.3 185.2 678.0 185.9 679.3 185.7C680.7 185.6 681.4 185.1 682.7 184.7C683.9 184.3 685.1 183.4 686.7 183.5C688.2 183.6 690.4 185.0 692.0 185.3C693.6 185.7 694.8 186.0 696.0 185.6C697.2 185.2 698.2 184.0 699.3 183.1C700.4 182.2 701.6 180.9 702.7 180.4C703.8 179.9 704.9 180.0 706.0 180.4C707.1 180.7 708.0 181.6 709.3 182.3C710.7 183.0 712.4 183.6 714.0 184.5C715.6 185.3 717.3 186.2 718.7 187.6C720.0 189.0 720.7 190.8 722.0 192.8C723.3 194.8 725.2 198.4 726.7 199.7C728.1 200.9 729.1 200.5 730.7 200.4C732.2 200.2 734.3 199.1 736.0 198.9C737.7 198.8 739.2 199.7 740.7 199.6C742.1 199.5 743.3 198.9 744.7 198.4C746.0 197.8 747.2 196.4 748.7 196.5C750.1 196.6 752.6 198.5 753.3 198.9M640.0 192.7C640.8 192.4 643.0 191.6 644.7 191.2C646.3 190.9 648.3 190.9 650.0 190.6C651.7 190.4 653.3 190.0 654.7 189.6C656.0 189.3 656.9 188.7 658.0 188.4C659.1 188.2 660.0 188.1 661.3 188.3C662.7 188.5 664.3 189.5 666.0 189.6C667.7 189.8 669.6 189.1 671.3 189.0C673.1 188.9 675.1 189.1 676.7 189.2C678.2 189.2 679.3 190.1 680.7 189.5C682.0 188.9 683.4 187.3 684.7 185.7C685.9 184.1 686.9 181.8 688.0 180.2C689.1 178.5 690.2 176.8 691.3 175.8C692.4 174.8 693.6 174.4 694.7 174.1C695.8 173.7 696.6 174.0 698.0 173.8C699.4 173.7 701.8 172.6 703.3 172.9C704.9 173.2 706.0 174.3 707.3 175.7C708.7 177.1 710.0 179.7 711.3 181.1C712.7 182.5 714.1 183.5 715.3 183.9C716.6 184.3 717.6 183.5 718.7 183.5C719.8 183.4 720.9 183.2 722.0 183.6C723.1 184.0 724.1 185.0 725.3 185.8C726.6 186.7 728.0 188.2 729.3 188.9C730.7 189.7 732.7 190.1 733.3 190.3M640.0 192.7C640.9 192.4 643.9 191.3 645.3 191.0C646.8 190.6 647.2 190.6 648.7 190.4C650.1 190.1 652.2 190.0 654.0 189.4C655.8 188.9 657.6 187.9 659.3 187.2C661.1 186.6 663.2 186.2 664.7 185.4C666.1 184.6 666.6 184.0 668.0 182.5C669.4 181.1 671.8 177.5 673.3 176.5C674.9 175.4 676.0 175.9 677.3 176.2C678.7 176.5 680.1 177.8 681.3 178.3C682.6 178.7 683.3 178.7 684.7 178.9C686.0 179.1 687.9 178.8 689.3 179.3C690.8 179.8 692.1 181.0 693.3 181.8C694.6 182.7 695.6 183.9 696.7 184.3C697.8 184.7 698.7 184.5 700.0 184.2C701.3 183.8 703.1 182.1 704.7 182.1C706.2 182.2 708.0 183.6 709.3 184.4C710.7 185.3 711.3 186.6 712.7 187.3C714.0 188.1 715.7 188.3 717.3 188.9C719.0 189.5 721.0 190.1 722.7 191.1C724.3 192.0 725.8 194.3 727.3 194.6C728.9 194.8 730.6 193.7 732.0 192.7C733.4 191.6 734.8 189.3 736.0 188.3C737.2 187.3 738.2 186.9 739.3 186.6C740.4 186.3 741.4 186.8 742.7 186.7C743.9 186.6 745.2 186.4 746.7 186.1C748.1 185.9 750.6 185.3 751.3 185.2M640.0 192.7C640.7 192.2 642.4 191.2 644.0 190.0C645.6 188.8 647.6 187.0 649.3 185.4C651.1 183.9 652.9 181.9 654.7 180.7C656.4 179.5 658.6 178.7 660.0 178.3C661.4 177.9 662.2 178.2 663.3 178.1C664.4 178.1 665.2 177.5 666.7 177.9C668.1 178.3 670.4 179.7 672.0 180.6C673.6 181.6 674.6 183.2 676.0 183.6C677.4 184.0 679.2 183.3 680.7 183.0C682.1 182.7 683.1 181.6 684.7 181.7C686.2 181.7 688.6 183.1 690.0 183.4C691.4 183.8 692.1 183.9 693.3 183.8C694.6 183.7 696.0 182.9 697.3 182.8C698.7 182.7 700.1 182.8 701.3 183.2C702.6 183.5 703.6 184.5 704.7 184.8C705.8 185.1 706.9 185.3 708.0 184.8C709.1 184.3 710.2 182.8 711.3 181.6C712.4 180.3 713.4 178.4 714.7 177.2C715.9 176.1 717.2 175.2 718.7 174.6C720.1 174.1 721.9 174.2 723.3 173.8C724.8 173.5 726.1 172.5 727.3 172.3C728.6 172.2 729.6 172.6 730.7 173.1C731.8 173.6 732.9 174.1 734.0 175.4C735.1 176.6 736.1 179.0 737.3 180.4C738.6 181.9 740.1 183.4 741.3 184.1C742.6 184.8 743.6 184.5 744.7 184.9C745.8 185.3 746.9 185.6 748.0 186.5C749.1 187.3 750.2 188.8 751.3 189.8C752.4 190.9 753.3 192.2 754.7 192.9C756.0 193.5 757.9 193.4 759.3 193.8C760.8 194.3 762.1 194.7 763.3 195.7C764.6 196.7 766.1 199.2 766.7 199.9M640.0 192.7C640.7 192.4 642.8 191.6 644.0 191.2C645.2 190.7 646.1 190.5 647.3 190.2C648.6 189.9 649.9 189.9 651.3 189.4C652.8 189.0 654.4 188.0 656.0 187.6C657.6 187.2 659.1 186.7 660.7 187.0C662.2 187.2 663.7 188.4 665.3 188.8C667.0 189.2 669.0 189.1 670.7 189.4C672.3 189.7 674.0 190.1 675.3 190.5C676.7 190.9 677.3 192.1 678.7 191.8C680.0 191.6 681.8 190.9 683.3 189.1C684.9 187.4 686.4 183.5 688.0 181.3C689.6 179.2 691.3 177.1 692.7 176.0C694.0 175.0 694.7 175.3 696.0 174.8C697.3 174.3 699.1 173.3 700.7 173.2C702.2 173.0 703.7 172.7 705.3 173.9C707.0 175.1 709.0 178.8 710.7 180.2C712.3 181.6 714.0 182.1 715.3 182.3C716.7 182.4 717.2 181.2 718.7 181.2C720.1 181.2 722.6 181.8 724.0 182.4C725.4 183.0 725.9 184.1 727.3 185.0C728.8 185.9 731.2 186.8 732.7 187.7C734.1 188.6 734.7 188.8 736.0 190.7C737.3 192.6 739.0 196.6 740.7 199.1C742.3 201.5 744.6 204.6 746.0 205.6C747.4 206.6 748.1 205.4 749.3 205.0C750.6 204.6 752.7 203.5 753.3 203.2M640.0 192.7C640.9 192.4 643.9 191.6 645.3 191.2C646.8 190.7 647.2 190.4 648.7 189.9C650.1 189.3 652.4 188.6 654.0 188.0C655.6 187.4 656.4 187.0 658.0 186.2C659.6 185.5 661.7 183.7 663.3 183.2C665.0 182.7 666.4 183.3 668.0 183.3C669.6 183.2 671.2 183.5 672.7 183.1C674.1 182.6 675.2 181.2 676.7 180.4C678.1 179.6 679.9 178.4 681.3 178.4C682.8 178.3 684.0 179.4 685.3 180.0C686.7 180.6 687.8 181.2 689.3 181.8C690.9 182.4 693.1 182.5 694.7 183.9C696.2 185.2 697.4 187.8 698.7 189.7C699.9 191.5 700.9 193.7 702.0 194.9C703.1 196.2 703.9 197.1 705.3 197.2C706.8 197.4 709.2 196.1 710.7 195.8C712.1 195.6 712.7 195.7 714.0 195.8C715.3 195.9 717.1 196.6 718.7 196.3C720.2 196.0 722.6 194.4 723.3 194.0M640.0 192.7C640.7 192.7 642.4 192.9 644.0 192.9C645.6 193.0 647.8 193.3 649.3 193.1C650.9 192.8 651.8 192.3 653.3 191.7C654.9 191.0 657.1 189.6 658.7 189.4C660.2 189.1 661.4 190.0 662.7 190.4C663.9 190.8 664.7 191.4 666.0 191.8C667.3 192.1 669.1 191.9 670.7 192.4C672.2 192.9 673.9 193.9 675.3 194.7C676.8 195.6 677.8 197.3 679.3 197.4C680.9 197.6 683.0 196.5 684.7 195.8C686.3 195.0 687.9 193.3 689.3 192.9C690.8 192.5 691.8 193.2 693.3 193.5C694.9 193.7 696.9 194.2 698.7 194.3C700.4 194.3 702.3 193.3 704.0 193.8C705.7 194.2 707.2 196.1 708.7 196.9C710.1 197.6 711.3 198.4 712.7 198.1C714.0 197.9 715.2 196.2 716.7 195.4C718.1 194.5 719.7 192.9 721.3 192.8C723.0 192.6 725.1 194.1 726.7 194.4C728.2 194.7 729.3 194.6 730.7 194.8C732.0 194.9 733.2 194.4 734.7 195.5C736.1 196.5 737.8 199.1 739.3 201.0C740.9 202.9 742.6 205.7 744.0 206.8C745.4 207.8 746.7 207.3 748.0 207.3C749.3 207.4 751.3 207.3 752.0 207.3M640.0 192.7C640.6 192.4 642.1 191.9 643.3 191.3C644.6 190.7 646.1 189.7 647.3 189.0C648.6 188.4 649.4 187.8 650.7 187.4C651.9 187.1 653.1 187.1 654.7 186.8C656.2 186.5 658.4 186.4 660.0 185.7C661.6 184.9 662.7 183.3 664.0 182.2C665.3 181.2 666.6 180.1 668.0 179.2C669.4 178.3 671.1 177.7 672.7 177.0C674.2 176.3 675.7 175.0 677.3 174.9C679.0 174.9 681.0 175.2 682.7 176.6C684.3 178.0 685.9 181.6 687.3 183.3C688.8 184.9 690.1 186.0 691.3 186.4C692.6 186.9 693.6 186.1 694.7 185.8C695.8 185.6 696.7 185.4 698.0 185.2C699.3 184.9 701.2 185.1 702.7 184.5C704.1 183.8 705.1 182.7 706.7 181.4C708.2 180.1 710.2 176.8 712.0 176.6C713.8 176.3 715.9 178.7 717.3 179.7C718.8 180.8 719.6 182.2 720.7 182.8C721.8 183.4 722.6 183.6 724.0 183.6C725.4 183.6 727.6 182.9 729.3 182.7C731.1 182.5 733.1 183.1 734.7 182.4C736.2 181.7 737.2 179.7 738.7 178.6C740.1 177.5 741.7 175.9 743.3 175.6C745.0 175.4 747.2 176.0 748.7 177.1C750.1 178.1 751.4 181.1 752.0 181.9M640.0 192.7C640.7 192.5 642.7 192.1 644.0 191.8C645.3 191.4 646.8 190.9 648.0 190.4C649.2 190.0 649.9 189.7 651.3 189.0C652.8 188.4 654.9 186.6 656.7 186.5C658.4 186.5 660.3 187.7 662.0 188.7C663.7 189.7 665.1 191.7 666.7 192.5C668.2 193.2 670.0 193.0 671.3 193.1C672.7 193.2 673.2 193.2 674.7 193.2C676.1 193.1 678.4 193.7 680.0 193.1C681.6 192.5 682.4 191.0 684.0 189.5C685.6 187.9 687.8 184.7 689.3 183.7C690.9 182.7 691.9 183.4 693.3 183.7C694.8 184.0 696.3 185.4 698.0 185.3C699.7 185.3 701.6 183.8 703.3 183.5C705.1 183.1 706.9 183.7 708.7 183.3C710.4 182.9 712.6 182.2 714.0 181.2C715.4 180.3 715.9 178.4 717.3 177.5C718.8 176.7 721.1 175.6 722.7 176.1C724.2 176.6 725.2 179.0 726.7 180.6C728.1 182.2 730.0 184.3 731.3 185.7C732.7 187.1 733.2 187.0 734.7 188.9C736.1 190.7 738.2 194.7 740.0 196.8C741.8 198.8 743.9 200.8 745.3 201.2C746.8 201.7 747.6 200.1 748.7 199.6C749.8 199.0 750.7 197.9 752.0 197.8C753.3 197.6 755.2 198.4 756.7 198.8C758.1 199.1 759.3 199.8 760.7 199.8C762.0 199.9 764.0 199.2 764.7 199.0M640.0 192.7C640.8 192.2 643.1 190.6 644.7 189.7C646.2 188.7 647.7 188.0 649.3 187.1C651.0 186.2 652.9 185.6 654.7 184.1C656.4 182.6 658.4 179.4 660.0 178.0C661.6 176.5 662.7 175.9 664.0 175.6C665.3 175.3 666.4 176.1 668.0 176.0C669.6 175.9 671.9 175.4 673.3 175.0C674.8 174.6 675.3 174.0 676.7 173.7C678.0 173.3 680.0 173.3 681.3 173.2C682.7 173.0 683.3 173.4 684.7 172.8C686.0 172.2 687.8 170.3 689.3 169.5C690.9 168.7 692.3 166.9 694.0 168.0C695.7 169.1 697.6 173.7 699.3 176.2C701.1 178.8 703.2 181.7 704.7 183.3C706.1 184.9 706.9 185.0 708.0 185.9C709.1 186.8 710.2 188.0 711.3 188.9C712.4 189.9 713.2 191.4 714.7 191.5C716.1 191.5 718.2 190.3 720.0 189.0C721.8 187.7 723.7 184.4 725.3 183.7C727.0 183.0 728.4 184.2 730.0 184.6C731.6 184.9 733.3 185.8 734.7 186.0C736.0 186.2 736.8 185.6 738.0 185.8C739.2 185.9 740.6 186.3 742.0 186.9C743.4 187.6 745.0 189.7 746.7 189.6C748.3 189.5 750.4 187.5 752.0 186.2C753.6 184.9 754.4 182.5 756.0 181.9C757.6 181.4 759.6 182.1 761.3 182.9C763.1 183.6 765.1 185.4 766.7 186.5C768.2 187.6 769.3 188.1 770.7 189.7C772.0 191.3 773.3 193.8 774.7 196.1C776.0 198.3 777.4 201.6 778.7 203.1C779.9 204.6 780.8 205.1 782.0 205.2C783.2 205.3 785.3 203.9 786.0 203.6M640.0 192.7C640.8 192.7 643.2 193.1 644.7 193.2C646.1 193.2 647.1 193.3 648.7 192.8C650.2 192.3 652.3 191.3 654.0 190.2C655.7 189.1 657.2 187.0 658.7 186.4C660.1 185.8 661.2 185.7 662.7 186.5C664.1 187.3 665.7 189.8 667.3 191.2C669.0 192.7 671.0 194.1 672.7 195.1C674.3 196.1 675.7 196.4 677.3 197.2C679.0 198.0 681.1 199.7 682.7 199.9C684.2 200.1 685.1 199.3 686.7 198.6C688.2 197.9 690.6 195.9 692.0 195.7C693.4 195.5 694.0 196.5 695.3 197.5C696.7 198.6 698.4 201.2 700.0 202.1C701.6 202.9 703.2 202.6 704.7 202.6C706.1 202.6 707.2 202.2 708.7 202.0C710.1 201.8 711.8 202.4 713.3 201.5C714.9 200.5 716.3 198.3 718.0 196.2C719.7 194.0 721.6 189.5 723.3 188.3C725.1 187.1 726.9 188.3 728.7 189.0C730.4 189.8 732.6 191.8 734.0 192.8C735.4 193.8 736.0 193.7 737.3 195.1C738.7 196.5 740.6 199.3 742.0 201.3C743.4 203.2 744.6 205.7 746.0 206.7C747.4 207.7 749.0 207.4 750.7 207.2C752.3 207.1 754.6 205.9 756.0 206.1C757.4 206.3 758.2 207.6 759.3 208.6C760.4 209.5 762.1 211.1 762.7 211.6M640.0 192.7C640.6 192.8 642.0 193.1 643.3 193.4C644.7 193.6 646.4 194.1 648.0 194.0C649.6 193.9 651.3 193.2 652.7 192.7C654.0 192.1 654.8 191.3 656.0 190.6C657.2 190.0 658.7 188.9 660.0 189.0C661.3 189.0 662.7 190.3 664.0 191.0C665.3 191.6 666.4 192.2 668.0 192.7C669.6 193.2 671.7 193.1 673.3 194.0C675.0 194.9 676.6 196.9 678.0 198.0C679.4 199.1 680.7 200.3 682.0 200.6C683.3 201.0 684.4 200.1 686.0 200.1C687.6 200.1 689.8 199.9 691.3 200.5C692.9 201.1 694.1 202.9 695.3 203.7C696.6 204.5 697.3 205.2 698.7 205.3C700.0 205.4 701.9 204.5 703.3 204.5C704.8 204.5 705.8 204.8 707.3 205.1C708.9 205.3 711.1 206.4 712.7 205.9C714.2 205.5 715.4 203.5 716.7 202.3C717.9 201.1 719.4 199.2 720.0 198.6M640.0 192.7C640.7 192.6 642.4 192.3 644.0 192.0C645.6 191.8 647.8 191.3 649.3 191.1C650.9 190.9 651.8 190.7 653.3 190.8C654.9 190.9 657.1 191.1 658.7 191.7C660.2 192.4 661.4 194.0 662.7 194.8C663.9 195.6 664.8 196.5 666.0 196.5C667.2 196.6 668.6 195.9 670.0 195.1C671.4 194.3 673.0 192.4 674.7 191.5C676.3 190.6 678.2 190.6 680.0 189.7C681.8 188.9 683.7 187.1 685.3 186.2C687.0 185.3 688.3 184.1 690.0 184.4C691.7 184.6 693.7 186.9 695.3 187.5C697.0 188.1 698.3 188.3 700.0 187.8C701.7 187.2 703.6 184.8 705.3 184.1C707.1 183.5 709.2 184.1 710.7 184.0C712.1 184.0 712.8 184.1 714.0 183.9C715.2 183.7 716.6 182.5 718.0 183.0C719.4 183.5 721.3 185.0 722.7 186.7C724.0 188.3 724.9 191.0 726.0 192.9C727.1 194.9 728.2 197.1 729.3 198.5C730.4 199.9 731.3 200.4 732.7 201.2C734.0 202.0 736.0 202.6 737.3 203.2C738.7 203.9 739.2 204.9 740.7 205.2C742.1 205.6 744.2 205.8 746.0 205.1C747.8 204.5 749.8 201.7 751.3 201.3C752.9 200.9 754.1 201.8 755.3 202.5C756.6 203.2 757.4 204.7 758.7 205.3C759.9 206.0 761.1 206.5 762.7 206.4C764.2 206.2 766.4 204.9 768.0 204.5C769.6 204.2 770.6 204.8 772.0 204.3C773.4 203.9 775.9 202.1 776.7 201.7M640.0 192.7C640.8 192.6 643.0 192.6 644.7 192.1C646.3 191.6 648.3 190.4 650.0 189.9C651.7 189.3 653.3 188.9 654.7 188.7C656.0 188.4 656.7 188.4 658.0 188.4C659.3 188.5 661.1 188.4 662.7 189.0C664.2 189.6 665.8 191.3 667.3 192.2C668.9 193.0 670.3 194.3 672.0 194.2C673.7 194.1 675.6 191.9 677.3 191.4C679.1 190.9 681.0 190.7 682.7 191.0C684.3 191.4 685.8 193.0 687.3 193.6C688.9 194.2 690.4 193.9 692.0 194.5C693.6 195.1 695.2 196.2 696.7 197.2C698.1 198.2 699.1 200.5 700.7 200.7C702.2 200.9 704.6 199.5 706.0 198.3C707.4 197.1 708.0 194.9 709.3 193.5C710.7 192.0 712.6 190.3 714.0 189.4C715.4 188.6 716.6 188.8 718.0 188.4C719.4 187.9 721.1 186.7 722.7 186.8C724.2 186.9 725.9 187.5 727.3 188.9C728.8 190.3 730.1 193.5 731.3 195.2C732.6 196.9 733.6 198.6 734.7 199.4C735.8 200.3 736.6 200.2 738.0 200.3C739.4 200.4 742.4 199.9 743.3 199.8M640.0 192.7C640.9 192.7 643.8 192.7 645.3 192.8C646.9 193.0 648.1 193.4 649.3 193.4C650.6 193.5 651.4 193.3 652.7 193.3C653.9 193.3 655.4 193.5 656.7 193.5C657.9 193.5 658.6 193.9 660.0 193.3C661.4 192.8 663.8 190.8 665.3 190.1C666.9 189.3 668.1 188.9 669.3 188.8C670.6 188.7 671.4 189.4 672.7 189.5C673.9 189.7 675.4 190.1 676.7 189.7C677.9 189.2 678.6 188.3 680.0 186.9C681.4 185.5 683.9 182.6 685.3 181.3C686.8 180.0 687.6 179.9 688.7 179.1C689.8 178.4 690.7 177.6 692.0 176.6C693.3 175.5 695.2 173.2 696.7 172.8C698.1 172.4 699.2 172.7 700.7 174.2C702.1 175.7 703.8 179.6 705.3 181.9C706.9 184.3 708.4 186.7 710.0 188.3C711.6 189.9 713.2 190.5 714.7 191.6C716.1 192.8 718.0 194.7 718.7 195.4M640.0 192.7C640.6 192.6 642.2 192.3 643.3 192.1C644.4 191.9 645.2 191.7 646.7 191.4C648.1 191.2 650.2 191.0 652.0 190.5C653.8 190.0 655.6 189.2 657.3 188.5C659.1 187.9 661.2 186.6 662.7 186.6C664.1 186.5 664.9 187.6 666.0 188.4C667.1 189.3 667.9 190.6 669.3 191.6C670.8 192.5 673.1 193.6 674.7 194.2C676.2 194.7 677.1 194.8 678.7 195.0C680.2 195.1 682.2 196.3 684.0 195.2C685.8 194.1 687.9 190.5 689.3 188.3C690.8 186.2 691.6 183.9 692.7 182.5C693.8 181.1 694.6 180.2 696.0 180.1C697.4 179.9 699.8 181.3 701.3 181.7C702.9 182.1 704.0 182.0 705.3 182.3C706.7 182.6 708.1 182.9 709.3 183.5C710.6 184.2 711.2 185.5 712.7 186.3C714.1 187.1 716.6 188.3 718.0 188.1C719.4 188.0 720.2 186.4 721.3 185.5C722.4 184.7 723.6 183.4 724.7 183.1C725.8 182.8 726.9 183.2 728.0 183.9C729.1 184.5 730.1 185.9 731.3 187.1C732.6 188.3 734.1 189.9 735.3 191.1C736.6 192.3 737.4 192.7 738.7 194.3C739.9 195.9 741.1 198.2 742.7 200.8C744.2 203.3 746.6 207.9 748.0 209.4C749.4 210.9 750.0 210.4 751.3 209.7C752.7 209.0 754.6 206.4 756.0 205.3C757.4 204.2 758.4 203.7 760.0 202.9C761.6 202.1 763.8 201.4 765.3 200.6C766.9 199.7 768.1 198.3 769.3 197.9C770.6 197.4 772.1 197.8 772.7 197.8M640.0 192.7C640.8 192.4 643.3 191.6 644.7 191.1C646.0 190.6 646.9 190.2 648.0 189.8C649.1 189.3 650.2 188.9 651.3 188.4C652.4 188.0 653.6 187.5 654.7 187.2C655.8 186.8 656.9 186.7 658.0 186.5C659.1 186.3 660.2 186.3 661.3 185.9C662.4 185.5 663.2 184.8 664.7 184.0C666.1 183.1 668.3 180.9 670.0 180.8C671.7 180.7 673.1 182.2 674.7 183.3C676.2 184.3 677.9 186.3 679.3 187.3C680.8 188.3 681.8 188.3 683.3 189.2C684.9 190.2 687.2 192.1 688.7 192.9C690.1 193.7 690.7 194.7 692.0 194.3C693.3 193.9 695.1 192.1 696.7 190.4C698.2 188.8 699.7 185.6 701.3 184.4C703.0 183.1 704.9 183.3 706.7 182.8C708.4 182.4 710.4 182.2 712.0 181.9C713.6 181.7 714.7 181.0 716.0 181.4C717.3 181.7 718.8 183.0 720.0 183.8C721.2 184.6 722.0 186.1 723.3 186.2C724.7 186.3 726.6 185.5 728.0 184.7C729.4 183.9 730.4 181.7 732.0 181.3C733.6 180.8 735.6 181.3 737.3 181.8C739.1 182.3 740.9 183.3 742.7 184.4C744.4 185.4 746.2 186.0 748.0 188.4C749.8 190.8 751.7 196.2 753.3 198.9C755.0 201.6 756.4 203.7 758.0 204.4C759.6 205.2 761.1 203.7 762.7 203.4C764.2 203.1 765.8 203.0 767.3 202.6C768.9 202.3 770.7 202.2 772.0 201.5C773.3 200.8 774.8 199.0 775.3 198.5M640.0 192.7C640.7 192.8 642.4 193.4 644.0 193.8C645.6 194.2 647.6 194.8 649.3 195.0C651.1 195.2 652.9 194.8 654.7 194.8C656.4 194.9 658.4 195.4 660.0 195.4C661.6 195.3 662.4 195.4 664.0 194.7C665.6 194.0 667.7 191.6 669.3 191.2C671.0 190.8 672.7 191.4 674.0 192.1C675.3 192.8 676.0 194.3 677.3 195.4C678.7 196.5 680.4 197.9 682.0 198.8C683.6 199.7 685.1 200.0 686.7 200.8C688.2 201.6 689.7 203.5 691.3 203.6C693.0 203.6 695.1 202.3 696.7 200.9C698.2 199.5 699.4 196.5 700.7 195.2C701.9 193.8 702.7 192.9 704.0 192.6C705.3 192.3 707.2 193.1 708.7 193.3C710.1 193.5 711.3 193.7 712.7 193.9C714.0 194.0 715.2 193.6 716.7 194.3C718.1 195.0 719.7 196.9 721.3 198.0C723.0 199.0 725.0 200.8 726.7 200.5C728.3 200.3 730.0 197.6 731.3 196.5C732.7 195.5 733.2 194.5 734.7 194.4C736.1 194.3 738.2 195.4 740.0 196.1C741.8 196.7 743.8 197.2 745.3 198.2C746.9 199.1 748.0 199.8 749.3 201.6C750.7 203.3 751.9 206.6 753.3 208.6C754.8 210.7 756.7 213.4 758.0 214.2C759.3 214.9 759.9 214.0 761.3 213.3C762.8 212.5 765.8 210.3 766.7 209.7M640.0 192.7C640.7 192.7 642.4 192.9 644.0 193.0C645.6 193.0 647.7 193.2 649.3 193.0C651.0 192.8 652.4 192.4 654.0 191.7C655.6 191.0 657.0 190.0 658.7 188.7C660.3 187.4 662.4 184.7 664.0 183.8C665.6 182.9 666.7 183.1 668.0 183.4C669.3 183.7 670.7 184.9 672.0 185.3C673.3 185.8 674.7 186.1 676.0 186.2C677.3 186.3 678.8 185.8 680.0 185.9C681.2 186.0 682.1 186.4 683.3 186.8C684.6 187.2 685.9 188.3 687.3 188.2C688.8 188.2 690.4 187.0 692.0 186.6C693.6 186.2 695.1 185.1 696.7 186.0C698.2 186.8 699.7 189.7 701.3 191.6C703.0 193.6 705.1 196.3 706.7 197.5C708.2 198.7 709.3 198.3 710.7 198.9C712.0 199.4 713.4 200.2 714.7 200.7C715.9 201.1 716.6 202.3 718.0 201.7C719.4 201.1 721.7 199.0 723.3 197.2C725.0 195.5 726.7 192.5 728.0 191.4C729.3 190.4 730.0 190.6 731.3 190.7C732.7 190.8 734.3 191.8 736.0 191.9C737.7 192.0 739.9 191.1 741.3 191.2C742.8 191.2 743.4 191.5 744.7 192.2C745.9 193.0 747.2 194.9 748.7 195.5C750.1 196.1 752.0 196.2 753.3 195.8C754.7 195.4 756.1 193.5 756.7 193.0M640.0 192.7C640.7 193.0 642.6 194.0 644.0 194.8C645.4 195.6 647.1 196.9 648.7 197.7C650.2 198.4 651.7 198.8 653.3 199.2C655.0 199.7 657.2 200.0 658.7 200.3C660.1 200.5 660.6 200.7 662.0 200.9C663.4 201.1 665.8 202.0 667.3 201.6C668.9 201.2 669.9 199.2 671.3 198.6C672.8 197.9 674.7 198.0 676.0 197.7C677.3 197.5 678.0 197.3 679.3 197.1C680.7 196.9 682.6 196.1 684.0 196.4C685.4 196.8 686.7 198.1 688.0 199.2C689.3 200.3 690.4 202.5 692.0 202.9C693.6 203.3 695.9 202.2 697.3 201.5C698.8 200.8 699.6 199.5 700.7 199.0C701.8 198.4 702.9 198.3 704.0 198.4C705.1 198.4 706.2 199.0 707.3 199.2C708.4 199.4 709.3 199.4 710.7 199.7C712.0 200.0 713.7 199.5 715.3 201.1C717.0 202.8 718.9 207.6 720.7 209.5C722.4 211.4 724.6 212.0 726.0 212.6C727.4 213.3 727.9 213.2 729.3 213.7C730.8 214.1 733.2 214.9 734.7 215.3C736.1 215.7 736.9 216.2 738.0 216.2C739.1 216.2 740.0 216.1 741.3 215.3C742.7 214.4 744.4 211.6 746.0 211.2C747.6 210.7 749.2 211.5 750.7 212.5C752.1 213.5 753.4 216.1 754.7 217.1C755.9 218.2 756.6 218.7 758.0 218.7C759.4 218.6 761.8 217.2 763.3 216.8C764.9 216.3 765.8 216.7 767.3 216.1C768.9 215.5 771.1 214.5 772.7 213.2C774.2 212.0 776.0 209.3 776.7 208.5"/>
<path class="g1" d="M691.7 133.0C690.8 132.6 689.4 131.6 686.7 130.5C683.9 129.4 678.9 127.7 675.0 126.3C671.1 124.9 665.3 122.9 663.3 122.2M739.2 171.3C738.8 169.9 737.4 165.8 736.7 163.0C736.0 160.2 735.0 157.7 735.0 154.7C735.0 151.6 736.7 147.7 736.7 144.7C736.7 141.6 736.1 138.8 735.0 136.3C733.9 133.8 731.4 132.2 730.0 129.7C728.6 127.2 728.2 123.9 726.7 121.3C725.1 118.8 721.8 115.5 720.8 114.3M742.5 154.7C743.2 153.8 744.9 151.6 746.7 149.7C748.5 147.7 751.2 144.9 753.3 143.0C755.4 141.1 758.3 140.2 759.2 138.0C760.0 135.8 759.6 132.0 758.3 129.7C757.1 127.3 754.2 125.1 751.7 123.8C749.2 122.6 744.9 122.9 743.3 122.2C741.8 121.5 742.2 120.9 742.5 119.7C742.8 118.4 744.9 115.5 745.3 114.7M746.7 166.3C747.5 164.9 750.3 160.8 751.7 158.0C753.1 155.2 754.0 152.4 755.0 149.7C756.0 146.9 757.4 144.1 757.5 141.3C757.6 138.6 755.7 135.9 755.8 133.0C756.0 130.1 757.1 126.6 758.3 123.8C759.6 121.1 761.4 118.7 763.3 116.3C765.3 114.0 767.5 111.8 770.0 109.7C772.5 107.6 775.6 104.9 778.3 103.8C781.1 102.7 783.9 104.0 786.7 103.0C789.4 102.0 792.2 99.9 795.0 98.0C797.8 96.1 801.9 92.4 803.3 91.3M776.7 166.3C777.6 165.5 780.8 163.6 782.5 161.3C784.2 159.1 785.1 155.8 786.7 153.0C788.2 150.2 789.6 147.2 791.7 144.7C793.8 142.2 797.6 140.5 799.2 138.0C800.7 135.5 799.9 132.4 800.8 129.7C801.8 126.9 803.5 124.1 805.0 121.3C806.5 118.6 809.2 114.4 810.0 113.0M788.3 138.0C789.2 138.0 791.2 138.8 793.3 138.0C795.4 137.2 799.6 133.8 800.8 133.0M716.7 161.3C717.2 160.2 718.1 156.6 720.0 154.7C721.9 152.7 725.6 151.9 728.3 149.7C731.1 147.4 734.7 144.7 736.7 141.3C738.6 138.0 740.0 133.0 740.0 129.7C740.0 126.3 737.2 122.7 736.7 121.3M778.3 186.3C781.4 184.9 790.6 180.5 796.7 178.0C802.8 175.5 809.2 173.3 815.0 171.3C820.8 169.4 826.1 168.0 831.7 166.3C837.2 164.7 842.2 163.3 848.3 161.3C854.4 159.4 861.9 156.6 868.3 154.7C874.7 152.7 880.3 151.3 886.7 149.7C893.1 148.0 900.6 146.2 906.7 144.7C912.8 143.1 917.8 141.6 923.3 140.5C928.9 139.4 934.4 138.8 940.0 138.0C945.6 137.2 951.1 136.5 956.7 136.0C962.2 135.5 969.2 135.1 973.3 135.2C977.5 135.3 978.8 136.8 981.7 136.7C984.6 136.5 988.1 134.4 990.8 134.3C993.6 134.2 995.7 135.4 998.3 136.0C1001.0 136.6 1005.3 137.4 1006.7 137.7M836.7 181.3C839.4 180.2 847.2 177.2 853.3 174.7C859.4 172.2 868.3 168.8 873.3 166.3C878.3 163.8 880.0 161.9 883.3 159.7C886.7 157.4 890.0 155.5 893.3 153.0C896.7 150.5 900.6 147.4 903.3 144.7C906.1 141.9 908.1 139.1 910.0 136.3C911.9 133.6 913.5 131.1 915.0 128.0C916.5 124.9 918.1 121.3 919.2 118.0C920.3 114.7 921.3 111.1 921.7 108.0C922.1 104.9 921.9 102.6 921.7 99.7C921.4 96.8 920.3 92.0 920.0 90.5M786.7 181.3C790.0 179.7 800.0 173.7 806.7 171.3C813.3 169.0 820.3 168.0 826.7 167.2C833.1 166.3 838.6 166.6 845.0 166.3C851.4 166.1 858.1 165.3 865.0 165.5C871.9 165.7 880.3 166.6 886.7 167.7C893.1 168.8 898.6 170.7 903.3 172.2C908.1 173.6 911.9 174.5 915.0 176.3C918.1 178.1 921.1 181.1 921.7 183.0C922.2 184.9 920.1 186.6 918.3 188.0C916.5 189.4 912.1 191.1 910.8 191.7M820.0 204.7C825.6 204.1 845.0 202.2 853.3 201.3C861.7 200.5 863.9 200.2 870.0 199.7C876.1 199.1 883.9 198.4 890.0 198.0C896.1 197.6 901.7 196.1 906.7 197.2C911.7 198.3 915.6 201.8 920.0 204.7C924.4 207.6 929.2 211.1 933.3 214.7C937.5 218.3 941.1 222.4 945.0 226.3C948.9 230.2 953.3 234.4 956.7 238.0C960.0 241.6 962.6 244.4 965.0 248.0C967.4 251.6 969.4 255.8 970.8 259.7C972.2 263.6 972.9 266.2 973.3 271.3C973.7 276.5 973.3 287.3 973.3 290.5M880.0 245.5C881.7 245.8 887.2 246.6 890.0 247.2C892.8 247.7 894.4 248.1 896.7 248.8C898.9 249.5 901.7 251.2 903.3 251.3C905.0 251.5 905.0 249.4 906.7 249.7C908.3 249.9 911.1 252.3 913.3 253.0C915.6 253.7 918.9 253.7 920.0 253.8M829.2 263.8C829.3 264.8 829.3 268.3 830.0 269.7C830.7 271.1 833.3 271.1 833.3 272.2C833.3 273.3 830.8 276.5 830.0 276.3C829.2 276.2 828.6 272.2 828.3 271.3M816.7 166.3C818.6 164.9 825.0 160.8 828.3 158.0C831.7 155.2 834.2 152.4 836.7 149.7C839.2 146.9 841.5 144.1 843.3 141.3C845.1 138.6 845.7 135.4 847.5 133.0C849.3 130.6 852.2 129.7 854.2 127.2C856.1 124.7 858.3 119.5 859.2 118.0M836.7 166.3C838.6 167.2 846.2 169.4 848.3 171.3C850.4 173.3 849.6 175.9 849.2 178.0C848.8 180.1 846.9 183.1 845.8 183.8C844.7 184.5 843.1 182.4 842.5 182.2M886.7 154.7C889.4 153.6 898.9 148.4 903.3 148.0C907.8 147.6 910.8 151.6 913.3 152.2C915.8 152.7 916.7 152.0 918.3 151.3C920.0 150.7 922.5 148.8 923.3 148.3M795.0 178.0C797.8 176.3 805.8 171.1 811.7 168.0C817.5 164.9 823.6 162.2 830.0 159.7C836.4 157.2 843.9 155.2 850.0 153.0C856.1 150.8 861.7 148.8 866.7 146.3C871.7 143.8 876.7 140.8 880.0 138.0C883.3 135.2 885.6 131.1 886.7 129.7M696.7 234.9C696.1 235.0 694.2 236.2 693.0 235.4C691.9 234.6 690.5 232.1 689.8 230.4C689.1 228.6 688.2 226.7 688.9 224.9C689.6 223.1 692.0 220.5 693.9 219.4C695.8 218.3 699.3 218.7 700.3 218.5M733.2 233.1C733.4 232.7 734.3 231.7 734.1 230.4C734.0 229.0 733.1 226.6 732.3 224.9C731.5 223.2 730.0 221.1 729.6 220.3M721.3 219.4C722.9 219.2 727.7 218.3 730.5 218.0C733.2 217.7 735.5 218.3 737.8 217.6C740.1 216.9 743.1 214.5 744.2 213.9M736.0 186.2C737.0 185.3 740.1 182.8 742.2 181.1C744.2 179.4 746.6 177.7 748.1 175.9C749.7 174.2 750.3 171.9 751.5 170.4C752.6 169.0 753.4 168.1 754.9 167.3C756.5 166.4 758.8 166.4 760.7 165.4C762.6 164.3 764.3 162.0 766.4 160.9C768.4 159.9 770.7 159.9 773.1 159.2C775.5 158.5 778.5 157.3 780.7 156.7C783.0 156.1 784.4 156.1 786.6 155.7C788.9 155.2 791.9 154.4 794.3 153.9C796.7 153.3 798.7 153.0 801.1 152.5C803.6 152.1 806.6 152.1 808.8 151.2C811.0 150.2 813.0 148.7 814.5 146.9C816.1 145.1 817.6 141.6 818.2 140.5M732.0 186.6C732.3 185.9 733.2 183.9 734.2 182.3C735.1 180.6 736.4 178.5 737.6 176.8C738.7 175.2 739.6 173.4 741.0 172.2C742.3 171.1 743.6 170.7 745.5 169.9C747.3 169.2 749.9 168.4 751.9 167.9C753.9 167.4 755.4 167.3 757.6 166.9C759.8 166.5 763.2 166.2 765.2 165.6C767.3 165.0 768.4 163.9 770.0 163.4C771.7 162.9 773.5 162.9 775.2 162.5C776.9 162.2 778.6 162.2 780.2 161.3C781.9 160.4 783.5 158.3 785.1 157.2C786.7 156.0 788.2 154.9 789.8 154.3C791.5 153.7 793.3 153.7 794.9 153.4C796.6 153.1 798.8 152.7 799.6 152.6M768.0 175.1C768.4 173.9 769.7 170.1 770.6 168.0C771.5 165.9 772.2 164.5 773.3 162.5C774.3 160.5 776.1 158.2 777.1 156.1C778.1 154.0 778.7 152.2 779.3 150.0C779.8 147.8 780.4 145.1 780.2 142.8C779.9 140.6 778.1 138.2 777.8 136.3C777.4 134.4 777.9 133.5 778.2 131.6C778.5 129.7 778.7 127.0 779.4 124.9C780.2 122.8 781.9 121.1 782.8 119.2C783.6 117.3 783.3 115.3 784.5 113.4C785.6 111.5 788.5 109.4 789.7 107.7C790.8 106.0 791.2 103.9 791.5 103.1M748.6 189.1C749.2 188.3 750.3 185.9 751.8 184.7C753.3 183.4 755.8 182.2 757.7 181.5C759.6 180.7 761.1 181.0 763.0 180.1C764.9 179.2 766.7 177.0 768.9 176.2C771.1 175.3 773.9 175.3 776.2 174.9C778.4 174.5 780.3 174.2 782.4 173.8C784.5 173.4 786.8 173.5 788.8 172.7C790.7 171.8 792.6 170.3 794.2 168.9C795.9 167.5 798.0 165.2 798.8 164.4M729.4 181.9C729.8 180.9 731.0 178.0 731.4 176.0C731.8 174.1 731.7 172.2 731.8 170.1C731.9 168.0 731.7 165.2 732.2 163.3C732.6 161.5 733.7 160.7 734.6 159.0C735.5 157.4 736.2 155.3 737.5 153.4C738.8 151.5 740.7 149.2 742.4 147.6C744.2 146.0 746.0 144.8 748.0 143.8C750.0 142.8 752.3 142.0 754.5 141.4C756.7 140.8 759.3 140.6 761.4 140.2C763.4 139.9 764.9 139.6 766.8 139.3C768.7 138.9 770.5 138.6 772.7 138.2C774.8 137.9 777.4 137.4 780.0 137.0C782.5 136.5 786.5 135.8 787.8 135.6M748.9 181.4C749.5 180.4 751.2 177.0 752.3 175.4C753.4 173.7 754.0 172.4 755.3 171.3C756.6 170.2 758.3 169.9 760.1 168.9C761.8 167.8 763.7 165.9 765.6 164.9C767.4 164.0 769.4 164.4 771.3 163.5C773.1 162.5 774.8 160.7 776.4 159.4C778.0 158.0 779.2 156.8 780.8 155.1C782.5 153.4 784.6 150.5 786.3 149.2C788.0 148.0 789.4 147.8 791.0 147.3C792.7 146.8 794.6 146.8 796.3 146.4C797.9 146.0 800.0 145.2 800.7 145.0M743.6 185.1C744.3 184.6 746.6 183.8 748.0 182.3C749.4 180.8 751.1 178.0 752.2 176.2C753.4 174.3 754.3 172.9 754.9 171.0C755.5 169.0 755.8 166.7 755.8 164.4C755.9 162.1 755.5 159.1 755.2 157.1C755.0 155.1 754.9 154.1 754.4 152.4C753.8 150.8 752.9 148.7 751.9 147.1C750.9 145.5 749.1 143.7 748.5 143.0M728.6 189.3C728.9 189.9 729.6 191.9 730.5 192.9C731.4 194.0 733.4 194.6 734.1 195.7C734.9 196.7 735.3 198.4 735.0 199.3C734.7 200.2 732.8 200.8 732.3 201.1M735.0 180.1C735.8 181.2 737.9 184.9 739.6 186.5C741.3 188.2 743.1 189.1 745.1 190.2C747.1 191.3 750.4 192.5 751.5 192.9M686.6 179.2C687.2 178.9 689.1 177.2 690.3 177.4C691.5 177.6 693.3 179.7 693.9 180.1M705.8 174.7C706.4 175.0 708.4 176.3 709.5 176.5C710.5 176.6 711.7 175.7 712.2 175.6"/>
<path d="M752.4 208.5C753.3 208.1 756.5 207.4 757.9 206.6C759.2 205.9 759.8 205.1 760.6 203.9C761.4 202.7 761.8 200.7 762.4 199.3C763.0 197.9 763.2 197.2 764.3 195.7C765.3 194.1 767.3 191.7 768.8 190.2C770.3 188.7 771.6 188.2 773.4 186.5C775.2 184.9 777.8 182.0 779.8 180.1C781.8 178.3 783.6 177.0 785.3 175.6C787.0 174.1 788.4 172.9 790.0 171.3C791.6 169.8 793.8 168.3 795.0 166.3C796.2 164.4 796.9 162.0 797.5 159.7C798.1 157.3 798.5 154.4 798.3 152.2C798.2 149.9 797.3 148.2 796.7 146.3C796.1 144.5 795.0 141.9 794.7 141.0" fill="none" stroke="#ee66ee" stroke-width="4.5" stroke-linejoin="round"/>
<path d="M640.0 192.5C641.0 192.5 643.7 192.7 645.5 192.9C647.4 193.2 649.2 193.8 651.0 193.8C652.8 193.8 654.8 193.1 656.5 192.9C658.2 192.8 659.4 192.8 661.1 192.9C662.7 193.1 664.7 193.8 666.5 193.8C668.4 193.9 670.2 193.8 672.0 193.4C673.8 192.9 676.0 191.6 677.5 191.1C679.0 190.6 679.6 190.6 681.1 190.6C682.7 190.7 684.8 191.3 686.6 191.6C688.5 191.9 690.3 192.1 692.1 192.5C693.9 192.9 695.8 193.7 697.6 193.8C699.4 194.0 701.2 193.7 703.1 193.4C704.9 193.1 707.0 192.2 708.5 192.0C710.1 191.9 711.0 192.0 712.2 192.5C713.4 192.9 714.6 193.9 715.9 194.8C717.1 195.6 718.0 196.4 719.5 197.5C721.0 198.6 723.2 199.9 725.0 201.1C726.8 202.4 728.6 203.7 730.5 204.8C732.3 205.9 734.1 206.8 735.9 207.5C737.8 208.3 739.6 209.0 741.4 209.4C743.3 209.7 745.1 210.0 746.9 209.8C748.7 209.7 751.5 208.7 752.4 208.5" fill="none" stroke="#870087" stroke-width="4.5" stroke-linejoin="round"/>
<path d="M638.7 191.6C639.5 191.4 641.9 191.1 643.7 190.6C645.5 190.2 647.4 189.3 649.2 188.8C651.0 188.3 653.0 187.8 654.7 187.4C656.3 187.1 657.9 186.8 659.2 187.0C660.6 187.1 661.5 187.8 662.9 188.4C664.2 188.9 666.1 190.0 667.4 190.2C668.8 190.4 670.0 190.2 671.1 189.7C672.2 189.3 672.9 188.3 673.8 187.4C674.8 186.6 675.6 184.9 676.6 184.7C677.6 184.5 678.6 185.4 679.8 186.1C681.0 186.8 682.4 188.3 683.9 188.8C685.3 189.3 686.8 189.3 688.5 189.3C690.1 189.3 692.1 188.6 693.9 188.8C695.8 189.0 697.6 189.8 699.4 190.6C701.2 191.5 703.1 192.9 704.9 193.8C706.7 194.8 708.5 195.8 710.4 196.6C712.2 197.3 714.0 197.8 715.9 198.4C717.7 199.0 719.5 199.7 721.3 200.2C723.2 200.8 725.1 201.3 726.8 201.6C728.5 201.9 729.9 202.1 731.4 202.1C732.9 202.1 734.6 201.5 735.9 201.6C737.3 201.7 738.4 202.4 739.6 202.5C740.8 202.6 742.5 202.7 743.3 202.1C744.0 201.4 743.4 199.3 744.2 198.4C744.9 197.5 746.5 197.1 747.8 196.6C749.2 196.0 750.7 195.9 752.4 195.2C754.1 194.5 756.2 193.2 757.9 192.5C759.5 191.7 760.8 191.1 762.4 190.6C764.1 190.2 766.2 190.2 767.9 189.7C769.6 189.3 770.8 188.9 772.5 187.9C774.2 186.9 776.1 185.4 778.0 183.8C779.8 182.2 780.6 180.9 783.4 178.3C786.3 175.7 792.1 171.1 795.0 168.0C797.9 164.9 798.9 162.3 800.8 159.7C802.8 157.0 804.7 154.3 806.7 152.2C808.6 150.1 810.6 148.4 812.5 147.2C814.4 145.9 816.8 145.8 818.3 144.7C819.9 143.6 820.8 141.8 821.7 140.5C822.5 139.2 823.1 137.7 823.3 137.2" fill="none" stroke="#000" stroke-width="4.6" stroke-linejoin="round"/>
<g class="b" font-size="24.4" text-anchor="middle" stroke="#000" stroke-width="1.2"><text x="388" y="875.5">↺</text><text x="438.8" y="889.5">↺</text></g>
</g>
<g class="grid">
<path d="M300 89.5V1052.5M740.4 89.5V1052.5M1180.8 89.5V1052.5M1620.7 89.5V1052.5"/>
<path d="M80.5 310.3H1621.5M80.5 538.6H1621.5M80.5 782H1621.5M80.5 1051.6H1621.5"/>
</g>
<rect x="80.5" y="89.5" width="1541" height="963" fill="none" stroke="#000" stroke-width="1.1"/>
<g class="b" font-size="20.83">
<text x="63.4" y="316.5" text-anchor="end">10°S</text>
<text x="64.3" y="544.6" text-anchor="end">20°S</text>
<text x="63.5" y="788.3" text-anchor="end">30°S</text>
<text x="300" y="1082.6" text-anchor="middle">40°E</text>
<text x="740.5" y="1082.6" text-anchor="middle">60°E</text>
<text x="1181" y="1082.6" text-anchor="middle">80°E</text>
<text x="1620" y="1082.6" text-anchor="middle">100°E</text>
</g>
<g>
<rect x="1274.4" y="874.4" width="339.3" height="169" rx="3.6" ry="3.6" fill="#fff" fill-opacity="0.8" stroke="#000" stroke-width="1.4"/>
<path d="M1280.8 887.5H1315.4" stroke="#696969" stroke-width="1.4" fill="none"/>
<path d="M1280.8 910.6H1315.4" stroke="#ff4500" stroke-width="1.4" fill="none"/>
<path d="M1280.8 933.8H1315.4" stroke="#808000" stroke-width="1.4" fill="none"/>
<path d="M1280.8 957.3H1315.4" stroke="#008000" stroke-width="1.4" fill="none"/>
<path d="M1279.4 980.2H1316.2" stroke="#870087" stroke-width="4.2" fill="none"/>
<path d="M1279.4 1003.3H1316.2" stroke="#000" stroke-width="4.2" fill="none"/>
<text class="b" x="1298.2" y="1034.6" font-size="16.2" text-anchor="middle" stroke="#000" stroke-width="0.8">↺</text>
<g font-size="16.67">
<text x="1327.4" y="893.4">No Interception</text>
<text x="1327.4" y="916">Interception from Named cyclone</text>
<text x="1327.4" y="940">Interception from Trochoid</text>
<text x="1327.4" y="963.3">Interception from both</text>
<text x="1327.4" y="985.8">HRES</text>
<text x="1327.4" y="1009.9">Analysis | 238h duration</text>
<text x="1327.4" y="1033.6">TC obs. for analysis duration</text>
</g>
</g>
<g>
<rect x="1665.5" y="910.65" width="20.3" height="28.85" fill="#e3eef9"/>
<rect x="1665.5" y="881.81" width="20.3" height="29.35" fill="#dceaf6"/>
<rect x="1665.5" y="852.96" width="20.3" height="29.35" fill="#d5e5f4"/>
<rect x="1665.5" y="824.12" width="20.3" height="29.35" fill="#cee0f2"/>
<rect x="1665.5" y="795.27" width="20.3" height="29.35" fill="#c7dcef"/>
<rect x="1665.5" y="766.42" width="20.3" height="29.35" fill="#bdd7ec"/>
<rect x="1665.5" y="737.58" width="20.3" height="29.35" fill="#b2d2e8"/>
<rect x="1665.5" y="708.73" width="20.3" height="29.35" fill="#a5cde3"/>
<rect x="1665.5" y="679.88" width="20.3" height="29.35" fill="#99c7e0"/>
<rect x="1665.5" y="651.04" width="20.3" height="29.35" fill="#8abfdd"/>
<rect x="1665.5" y="622.19" width="20.3" height="29.35" fill="#7cb7da"/>
<rect x="1665.5" y="593.35" width="20.3" height="29.35" fill="#6dafd7"/>
<rect x="1665.5" y="564.50" width="20.3" height="29.35" fill="#60a7d2"/>
<rect x="1665.5" y="535.65" width="20.3" height="29.35" fill="#549fcd"/>
<rect x="1665.5" y="506.81" width="20.3" height="29.35" fill="#4997c9"/>
<rect x="1665.5" y="477.96" width="20.3" height="29.35" fill="#3e8ec4"/>
<rect x="1665.5" y="449.12" width="20.3" height="29.35" fill="#3484bf"/>
<rect x="1665.5" y="420.27" width="20.3" height="29.35" fill="#2b7bba"/>
<rect x="1665.5" y="391.42" width="20.3" height="29.35" fill="#2171b5"/>
<rect x="1665.5" y="362.58" width="20.3" height="29.35" fill="#1a68ae"/>
<rect x="1665.5" y="333.73" width="20.3" height="29.35" fill="#135fa7"/>
<rect x="1665.5" y="304.88" width="20.3" height="29.35" fill="#0b559f"/>
<rect x="1665.5" y="276.04" width="20.3" height="29.35" fill="#084c95"/>
<rect x="1665.5" y="247.19" width="20.3" height="29.35" fill="#084387"/>
<rect x="1665.5" y="218.35" width="20.3" height="29.35" fill="#083979"/>
<rect x="1665.5" y="189.50" width="20.3" height="29.35" fill="#08306b"/>
<rect x="1665.5" y="189.5" width="20.3" height="750" fill="none" stroke="#000" stroke-width="1.1"/>
<g stroke="#000" stroke-width="1.1">
<path d="M1685.8 939.50h4.9"/>
<path d="M1685.8 795.27h4.9"/>
<path d="M1685.8 651.04h4.9"/>
<path d="M1685.8 506.81h4.9"/>
<path d="M1685.8 362.58h4.9"/>
<path d="M1685.8 218.35h4.9"/>
</g>
<g font-size="13.89">
<text x="1695.8" y="944.70">0</text>
<text x="1695.8" y="800.47">10</text>
<text x="1695.8" y="656.24">20</text>
<text x="1695.8" y="512.01">30</text>
<text x="1695.8" y="367.78">40</text>
<text x="1695.8" y="223.55">50</text>
</g>
<text class="b" font-size="19.44" text-anchor="middle" transform="translate(1738.2 624.7) rotate(-90)">Named cyclones forecast - Number of EPS within 120km</text>
</g>
<g>
<text class="b" font-size="16.67" x="865.3" y="1121.3" text-anchor="middle">Percentage of flying ballons within a TC as a function of flight time</text>
<rect x="25.5" y="1137.5" width="1640" height="41" fill="#9e0142" stroke="#000" stroke-width="1.1"/>
<path d="M20.6 1158.5H25.5" stroke="#000" stroke-width="1.1"/>
<path d="M25.50 1178.5v4.9M66.50 1178.5v4.9M107.50 1178.5v4.9M148.50 1178.5v4.9M189.50 1178.5v4.9M230.50 1178.5v4.9M271.50 1178.5v4.9M312.50 1178.5v4.9M353.50 1178.5v4.9M394.50 1178.5v4.9M435.50 1178.5v4.9M476.50 1178.5v4.9M517.50 1178.5v4.9M558.50 1178.5v4.9M599.50 1178.5v4.9M640.50 1178.5v4.9M681.50 1178.5v4.9M722.50 1178.5v4.9M763.50 1178.5v4.9M804.50 1178.5v4.9M845.50 1178.5v4.9M886.50 1178.5v4.9M927.50 1178.5v4.9M968.50 1178.5v4.9M1009.50 1178.5v4.9M1050.50 1178.5v4.9M1091.50 1178.5v4.9M1132.50 1178.5v4.9M1173.50 1178.5v4.9M1214.50 1178.5v4.9M1255.50 1178.5v4.9M1296.50 1178.5v4.9M1337.50 1178.5v4.9M1378.50 1178.5v4.9M1419.50 1178.5v4.9M1460.50 1178.5v4.9M1501.50 1178.5v4.9M1542.50 1178.5v4.9M1583.50 1178.5v4.9M1624.50 1178.5v4.9M1665.50 1178.5v4.9" stroke="#000" stroke-width="1.1" fill="none"/>
<g class="b" font-size="15.28" text-anchor="middle">
<text x="25.80" y="1199.9">0h</text>
<text x="189.80" y="1199.9">12h</text>
<text x="353.80" y="1199.9">24h</text>
<text x="517.80" y="1199.9">36h</text>
<text x="681.80" y="1199.9">48h</text>
<text x="845.80" y="1199.9">60h</text>
<text x="1009.80" y="1199.9">72h</text>
<text x="1173.80" y="1199.9">84h</text>
<text x="1337.80" y="1199.9">96h</text>
<text x="1501.80" y="1199.9">108h</text>
<text x="1665.80" y="1199.9">120h</text>
</g>
</g>
</svg>
</body></html>
